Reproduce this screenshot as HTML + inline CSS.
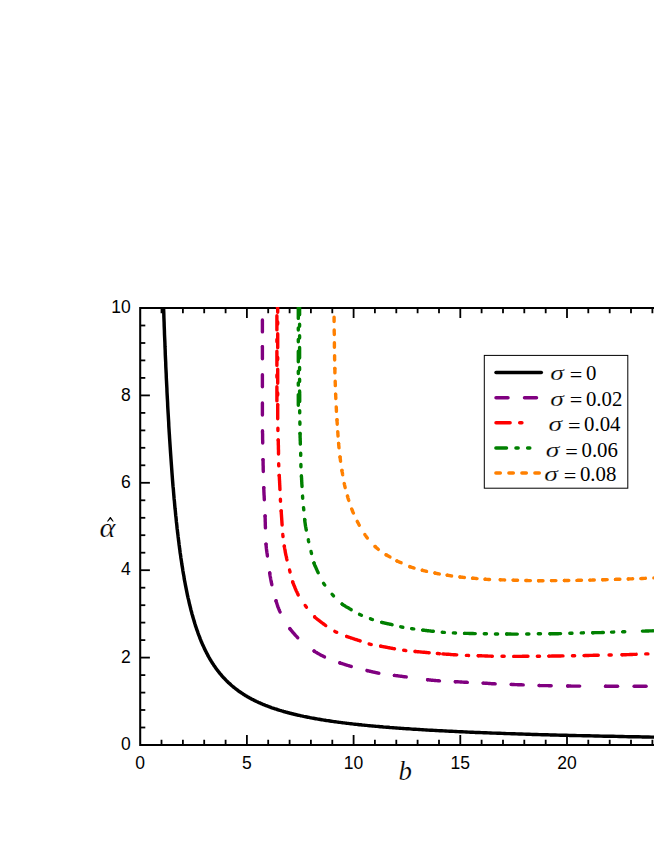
<!DOCTYPE html>
<html><head><meta charset="utf-8"><title>chart</title><style>html,body{margin:0;padding:0;background:#fff;overflow:hidden}svg{display:block}</style></head><body>
<svg width="654" height="846" viewBox="0 0 654 846">
<rect width="654" height="846" fill="#fff"/>
<defs><clipPath id="c"><rect x="139.1" y="307.1" width="600" height="438.8"/></clipPath></defs>
<g stroke="#000" stroke-width="2" fill="none" stroke-linecap="butt">
<path d="M654 308.0 H140.2 V745.0 H654" stroke-width="2.05" stroke-linejoin="miter"/>
<path d="M161.5 745.0 v-5.2M161.5 308.0 v5.2" stroke-width="1.8"/>
<path d="M182.9 745.0 v-5.2M182.9 308.0 v5.2" stroke-width="1.8"/>
<path d="M204.2 745.0 v-5.2M204.2 308.0 v5.2" stroke-width="1.8"/>
<path d="M225.6 745.0 v-5.2M225.6 308.0 v5.2" stroke-width="1.8"/>
<path d="M246.9 745.0 v-10M246.9 308.0 v10" stroke-width="1.8"/>
<path d="M268.2 745.0 v-5.2M268.2 308.0 v5.2" stroke-width="1.8"/>
<path d="M289.6 745.0 v-5.2M289.6 308.0 v5.2" stroke-width="1.8"/>
<path d="M310.9 745.0 v-5.2M310.9 308.0 v5.2" stroke-width="1.8"/>
<path d="M332.3 745.0 v-5.2M332.3 308.0 v5.2" stroke-width="1.8"/>
<path d="M353.6 745.0 v-10M353.6 308.0 v10" stroke-width="1.8"/>
<path d="M374.9 745.0 v-5.2M374.9 308.0 v5.2" stroke-width="1.8"/>
<path d="M396.3 745.0 v-5.2M396.3 308.0 v5.2" stroke-width="1.8"/>
<path d="M417.6 745.0 v-5.2M417.6 308.0 v5.2" stroke-width="1.8"/>
<path d="M439.0 745.0 v-5.2M439.0 308.0 v5.2" stroke-width="1.8"/>
<path d="M460.3 745.0 v-10M460.3 308.0 v10" stroke-width="1.8"/>
<path d="M481.6 745.0 v-5.2M481.6 308.0 v5.2" stroke-width="1.8"/>
<path d="M503.0 745.0 v-5.2M503.0 308.0 v5.2" stroke-width="1.8"/>
<path d="M524.3 745.0 v-5.2M524.3 308.0 v5.2" stroke-width="1.8"/>
<path d="M545.7 745.0 v-5.2M545.7 308.0 v5.2" stroke-width="1.8"/>
<path d="M567.0 745.0 v-10M567.0 308.0 v10" stroke-width="1.8"/>
<path d="M588.3 745.0 v-5.2M588.3 308.0 v5.2" stroke-width="1.8"/>
<path d="M609.7 745.0 v-5.2M609.7 308.0 v5.2" stroke-width="1.8"/>
<path d="M631.0 745.0 v-5.2M631.0 308.0 v5.2" stroke-width="1.8"/>
<path d="M652.4 745.0 v-5.2M652.4 308.0 v5.2" stroke-width="1.8"/>
<path d="M140.2 727.5 h5.1" stroke-width="1.8"/>
<path d="M140.2 710.0 h5.1" stroke-width="1.8"/>
<path d="M140.2 692.6 h5.1" stroke-width="1.8"/>
<path d="M140.2 675.1 h5.1" stroke-width="1.8"/>
<path d="M140.2 657.6 h9.7" stroke-width="1.8"/>
<path d="M140.2 640.1 h5.1" stroke-width="1.8"/>
<path d="M140.2 622.6 h5.1" stroke-width="1.8"/>
<path d="M140.2 605.2 h5.1" stroke-width="1.8"/>
<path d="M140.2 587.7 h5.1" stroke-width="1.8"/>
<path d="M140.2 570.2 h9.7" stroke-width="1.8"/>
<path d="M140.2 552.7 h5.1" stroke-width="1.8"/>
<path d="M140.2 535.2 h5.1" stroke-width="1.8"/>
<path d="M140.2 517.8 h5.1" stroke-width="1.8"/>
<path d="M140.2 500.3 h5.1" stroke-width="1.8"/>
<path d="M140.2 482.8 h9.7" stroke-width="1.8"/>
<path d="M140.2 465.3 h5.1" stroke-width="1.8"/>
<path d="M140.2 447.8 h5.1" stroke-width="1.8"/>
<path d="M140.2 430.4 h5.1" stroke-width="1.8"/>
<path d="M140.2 412.9 h5.1" stroke-width="1.8"/>
<path d="M140.2 395.4 h9.7" stroke-width="1.8"/>
<path d="M140.2 377.9 h5.1" stroke-width="1.8"/>
<path d="M140.2 360.4 h5.1" stroke-width="1.8"/>
<path d="M140.2 343.0 h5.1" stroke-width="1.8"/>
<path d="M140.2 325.5 h5.1" stroke-width="1.8"/>
</g>
<g fill="none" stroke-linecap="round" stroke-linejoin="round" clip-path="url(#c)">
<path d="M160.5 200.3 L160.6 205.8 L160.7 211.2 L160.9 216.6 L161.0 221.9 L161.1 227.1 L161.3 232.3 L161.4 237.5 L161.6 242.6 L161.7 247.6 L161.8 252.6 L162.0 257.6 L162.1 262.5 L162.3 267.3 L162.4 272.1 L162.6 276.9 L162.7 281.6 L162.8 286.2 L163.0 290.9 L163.1 295.4 L163.3 299.9 L163.4 304.4 L163.6 308.8 L163.8 313.2 L163.9 317.5 L164.1 321.8 L164.2 326.1 L164.4 330.3 L164.5 334.5 L164.7 338.6 L164.9 342.7 L165.0 346.7 L165.2 350.7 L165.3 354.6 L165.5 358.6 L165.7 362.4 L165.8 366.3 L166.0 370.1 L166.2 373.8 L166.3 377.5 L166.5 381.2 L166.7 384.9 L166.9 388.5 L167.0 392.0 L167.2 395.6 L167.4 399.1 L167.6 402.5 L167.7 405.9 L167.9 409.3 L168.1 412.7 L168.3 416.0 L168.5 419.3 L168.7 422.5 L168.8 425.8 L169.0 428.9 L169.2 432.1 L169.4 435.2 L169.6 438.3 L169.8 441.4 L170.0 444.4 L170.2 447.4 L170.4 450.3 L170.6 453.3 L170.8 456.2 L171.0 459.0 L171.2 461.9 L171.4 464.7 L171.6 467.5 L171.8 470.2 L172.0 473.0 L172.2 475.6 L172.4 478.3 L172.6 481.0 L172.8 483.6 L173.0 486.2 L173.3 488.7 L173.5 491.3 L173.7 493.8 L173.9 496.2 L174.1 498.7 L174.4 501.1 L174.6 503.5 L174.8 505.9 L175.0 508.3 L175.3 510.6 L175.5 512.9 L175.7 515.2 L176.0 517.4 L176.2 519.7 L176.4 521.9 L176.7 524.1 L176.9 526.2 L177.1 528.4 L177.4 530.5 L177.6 532.6 L177.9 534.7 L178.1 536.7 L178.4 538.8 L178.6 540.8 L178.9 542.8 L179.1 544.7 L179.4 546.7 L179.6 548.6 L179.9 550.5 L180.1 552.4 L180.4 554.3 L180.7 556.2 L180.9 558.0 L181.2 559.8 L181.5 561.6 L181.7 563.4 L182.0 565.1 L182.3 566.9 L182.6 568.6 L182.8 570.3 L183.1 572.0 L183.4 573.7 L183.7 575.3 L184.0 576.9 L184.2 578.6 L184.5 580.2 L184.8 581.7 L185.1 583.3 L185.4 584.9 L185.7 586.4 L186.0 587.9 L186.3 589.4 L186.6 590.9 L186.9 592.4 L187.2 593.8 L187.5 595.3 L187.8 596.7 L188.1 598.1 L188.5 599.5 L188.8 600.9 L189.1 602.3 L189.4 603.6 L189.7 605.0 L190.1 606.3 L190.4 607.6 L190.7 608.9 L191.0 610.2 L191.4 611.5 L191.7 612.7 L192.0 614.0 L192.4 615.2 L192.7 616.4 L193.1 617.6 L193.4 618.8 L193.8 620.0 L194.1 621.2 L194.5 622.3 L194.8 623.5 L195.2 624.6 L195.5 625.8 L195.9 626.9 L196.3 628.0 L196.6 629.1 L197.0 630.1 L197.4 631.2 L197.8 632.3 L198.1 633.3 L198.5 634.3 L198.9 635.4 L199.3 636.4 L199.7 637.4 L200.0 638.4 L200.4 639.4 L200.8 640.3 L201.2 641.3 L201.6 642.3 L202.0 643.2 L202.4 644.1 L202.8 645.1 L203.3 646.0 L203.7 646.9 L204.1 647.8 L204.5 648.7 L204.9 649.6 L205.3 650.4 L205.8 651.3 L206.2 652.1 L206.6 653.0 L207.1 653.8 L207.5 654.6 L207.9 655.5 L208.4 656.3 L208.8 657.1 L209.3 657.9 L209.7 658.7 L210.2 659.4 L210.6 660.2 L211.1 661.0 L211.6 661.7 L212.0 662.5 L212.5 663.2 L213.0 663.9 L213.5 664.7 L213.9 665.4 L214.4 666.1 L214.9 666.8 L215.4 667.5 L215.9 668.2 L216.4 668.9 L216.9 669.6 L217.4 670.2 L217.9 670.9 L218.4 671.5 L218.9 672.2 L219.4 672.8 L219.9 673.5 L220.5 674.1 L221.0 674.7 L221.5 675.3 L222.0 676.0 L222.6 676.6 L223.1 677.2 L223.7 677.8 L224.2 678.3 L224.8 678.9 L225.3 679.5 L225.9 680.1 L226.4 680.6 L227.0 681.2 L227.6 681.8 L228.1 682.3 L228.7 682.8 L229.3 683.4 L229.9 683.9 L230.5 684.4 L231.0 685.0 L231.6 685.5 L232.2 686.0 L232.8 686.5 L233.4 687.0 L234.1 687.5 L234.7 688.0 L235.3 688.5 L235.9 689.0 L236.5 689.4 L237.2 689.9 L237.8 690.4 L238.4 690.9 L239.1 691.3 L239.7 691.8 L240.4 692.2 L241.0 692.7 L241.7 693.1 L242.4 693.5 L243.0 694.0 L243.7 694.4 L244.4 694.8 L245.1 695.3 L245.7 695.7 L246.4 696.1 L247.1 696.5 L247.8 696.9 L248.5 697.3 L249.2 697.7 L250.0 698.1 L250.7 698.5 L251.4 698.9 L252.1 699.3 L252.9 699.6 L253.6 700.0 L254.3 700.4 L255.1 700.8 L255.8 701.1 L256.6 701.5 L257.4 701.8 L258.1 702.2 L258.9 702.6 L259.7 702.9 L260.4 703.2 L261.2 703.6 L262.0 703.9 L262.8 704.3 L263.6 704.6 L264.4 704.9 L265.2 705.3 L266.1 705.6 L266.9 705.9 L267.7 706.2 L268.6 706.5 L269.4 706.8 L270.2 707.2 L271.1 707.5 L271.9 707.8 L272.8 708.1 L273.7 708.4 L274.5 708.7 L275.4 708.9 L276.3 709.2 L277.2 709.5 L278.1 709.8 L279.0 710.1 L279.9 710.4 L280.8 710.6 L281.7 710.9 L282.7 711.2 L283.6 711.5 L284.5 711.7 L285.5 712.0 L286.4 712.2 L287.4 712.5 L288.4 712.8 L289.3 713.0 L290.3 713.3 L291.3 713.5 L292.3 713.8 L293.3 714.0 L294.3 714.3 L295.3 714.5 L296.3 714.7 L297.3 715.0 L298.3 715.2 L299.4 715.4 L300.4 715.7 L301.5 715.9 L302.5 716.1 L303.6 716.4 L304.6 716.6 L305.7 716.8 L306.8 717.0 L307.9 717.2 L309.0 717.4 L310.1 717.7 L311.2 717.9 L312.3 718.1 L313.5 718.3 L314.6 718.5 L315.7 718.7 L316.9 718.9 L318.0 719.1 L319.2 719.3 L320.4 719.5 L321.5 719.7 L322.7 719.9 L323.9 720.1 L325.1 720.3 L326.3 720.5 L327.6 720.6 L328.8 720.8 L330.0 721.0 L331.3 721.2 L332.5 721.4 L333.8 721.6 L335.0 721.7 L336.3 721.9 L337.6 722.1 L338.9 722.3 L340.2 722.4 L341.5 722.6 L342.8 722.8 L344.1 722.9 L345.5 723.1 L346.8 723.3 L348.2 723.4 L349.5 723.6 L350.9 723.7 L352.3 723.9 L353.7 724.1 L355.0 724.2 L356.5 724.4 L357.9 724.5 L359.3 724.7 L360.7 724.8 L362.2 725.0 L363.6 725.1 L365.1 725.3 L366.6 725.4 L368.0 725.6 L369.5 725.7 L371.0 725.9 L372.5 726.0 L374.1 726.1 L375.6 726.3 L377.1 726.4 L378.7 726.5 L380.2 726.7 L381.8 726.8 L383.4 727.0 L385.0 727.1 L386.6 727.2 L388.2 727.3 L389.8 727.5 L391.4 727.6 L393.1 727.7 L394.7 727.9 L396.4 728.0 L398.1 728.1 L399.8 728.2 L401.5 728.4 L403.2 728.5 L404.9 728.6 L406.6 728.7 L408.4 728.8 L410.1 728.9 L411.9 729.1 L413.7 729.2 L415.5 729.3 L417.3 729.4 L419.1 729.5 L420.9 729.6 L422.7 729.7 L424.6 729.9 L426.4 730.0 L428.3 730.1 L430.2 730.2 L432.1 730.3 L434.0 730.4 L435.9 730.5 L437.9 730.6 L439.8 730.7 L441.8 730.8 L443.8 730.9 L445.7 731.0 L447.7 731.1 L449.7 731.2 L451.8 731.3 L453.8 731.4 L455.9 731.5 L457.9 731.6 L460.0 731.7 L462.1 731.8 L464.2 731.9 L466.3 732.0 L468.5 732.1 L470.6 732.2 L472.8 732.3 L474.9 732.4 L477.1 732.4 L479.3 732.5 L481.6 732.6 L483.8 732.7 L486.0 732.8 L488.3 732.9 L490.6 733.0 L492.9 733.1 L495.2 733.1 L497.5 733.2 L499.8 733.3 L502.2 733.4 L504.6 733.5 L506.9 733.6 L509.3 733.6 L511.8 733.7 L514.2 733.8 L516.6 733.9 L519.1 734.0 L521.6 734.0 L524.1 734.1 L526.6 734.2 L529.1 734.3 L531.7 734.4 L534.2 734.4 L536.8 734.5 L539.4 734.6 L542.0 734.7 L544.6 734.7 L547.3 734.8 L549.9 734.9 L552.6 734.9 L555.3 735.0 L558.0 735.1 L560.8 735.2 L563.5 735.2 L566.3 735.3 L569.1 735.4 L571.9 735.4 L574.7 735.5 L577.6 735.6 L580.4 735.6 L583.3 735.7 L586.2 735.8 L589.1 735.8 L592.0 735.9 L595.0 736.0 L598.0 736.0 L601.0 736.1 L604.0 736.2 L607.0 736.2 L610.1 736.3 L613.2 736.3 L616.2 736.4 L619.4 736.5 L622.5 736.5 L625.6 736.6 L628.8 736.7 L632.0 736.7 L635.2 736.8 L638.5 736.8 L641.7 736.9 L645.0 736.9 L648.3 737.0 L651.6 737.1 L655.0 737.1 L658.4 737.2 L661.8 737.2 L665.2 737.3" stroke="#000" stroke-width="3.45"/>
<path d="M262.4 318.2 L262.4 319.9" stroke="#800080" stroke-width="3.4" stroke-dasharray="12.00 16.20" stroke-dashoffset="26.50"/>
<path d="M262.4 319.9 L262.4 319.9 L262.4 321.6 L262.4 323.3 L262.4 325.0 L262.4 326.7 L262.4 328.3 L262.4 330.0 L262.4 331.6 L262.4 333.3 L262.4 334.9 L262.4 336.6 L262.4 338.3 L262.4 340.0 L262.4 341.6 L262.4 343.4 L262.4 345.1 L262.4 346.7" stroke="#800080" stroke-width="3.4" stroke-dasharray="12.00 14.80"/>
<path d="M262.4 346.7 L262.4 346.8 L262.4 348.6 L262.4 350.4 L262.4 352.3 L262.4 354.1 L262.4 356.1 L262.4 358.0 L262.4 360.0 L262.4 362.1 L262.4 364.2 L262.4 366.5 L262.4 368.9 L262.4 371.3 L262.4 373.8 L262.4 374.7" stroke="#800080" stroke-width="3.4" stroke-dasharray="12.00 16.00"/>
<path d="M262.4 374.7 L262.4 376.3 L262.4 378.8 L262.4 381.4 L262.4 384.0 L262.4 386.6 L262.4 389.2 L262.4 391.7 L262.4 394.3 L262.4 396.7 L262.4 399.1 L262.4 401.5 L262.4 403.0" stroke="#800080" stroke-width="3.4" stroke-dasharray="12.00 16.30"/>
<path d="M262.4 403.0 L262.4 403.8 L262.4 405.9 L262.4 408.0 L262.4 409.9 L262.4 411.8 L262.4 413.5 L262.4 415.0 L262.4 416.4 L262.4 417.6 L262.4 418.7 L262.4 419.7 L262.4 420.5 L262.4 421.3 L262.4 421.9 L262.4 422.5 L262.4 423.0 L262.4 423.4 L262.4 423.8 L262.4 424.2 L262.4 424.5 L262.4 424.9 L262.4 425.2 L262.4 425.5 L262.4 425.9 L262.4 426.3 L262.5 426.7 L262.5 427.2 L262.5 427.8 L262.5 428.4 L262.5 429.2 L262.5 430.0 L262.5 430.9 L262.5 431.0" stroke="#800080" stroke-width="3.4" stroke-dasharray="12.00 16.00"/>
<path d="M262.5 431.0 L262.5 431.9 L262.5 432.9 L262.6 433.9 L262.6 435.0 L262.6 436.1 L262.6 437.2 L262.6 438.4 L262.6 439.5 L262.7 440.7 L262.7 442.0 L262.7 443.2 L262.7 444.4 L262.8 445.7 L262.8 446.9 L262.8 448.2 L262.8 449.4 L262.9 450.7 L262.9 451.9 L262.9 453.2 L262.9 454.4 L263.0 455.6 L263.0 456.8 L263.0 458.0 L263.0 459.2 L263.0 459.6" stroke="#800080" stroke-width="3.4" stroke-dasharray="12.00 16.60"/>
<path d="M263.0 459.6 L263.0 460.3 L263.1 461.5 L263.1 462.7 L263.1 463.8 L263.1 465.0 L263.2 466.2 L263.2 467.3 L263.2 468.5 L263.2 469.7 L263.3 470.8 L263.3 472.0 L263.3 473.2 L263.4 474.3 L263.4 475.5 L263.4 476.7 L263.4 477.8 L263.5 479.0 L263.5 480.2 L263.5 481.3 L263.6 482.5 L263.6 483.7 L263.7 484.8 L263.7 486.0 L263.7 487.2 L263.8 487.7" stroke="#800080" stroke-width="3.4" stroke-dasharray="12.00 16.11"/>
<path d="M263.8 487.7 L263.8 488.3 L263.8 489.5 L263.9 490.7 L263.9 491.8 L264.0 493.0 L264.0 494.2 L264.1 495.3 L264.2 496.5 L264.2 497.6 L264.3 498.8 L264.3 500.0 L264.4 501.1 L264.5 502.3 L264.5 503.5 L264.6 504.6 L264.6 505.8 L264.7 507.0 L264.7 508.1 L264.8 509.3 L264.9 510.5 L264.9 511.7 L265.0 512.8 L265.0 514.0 L265.0 515.2 L265.1 515.9" stroke="#800080" stroke-width="3.4" stroke-dasharray="12.00 16.23"/>
<path d="M265.1 515.9 L265.1 516.4 L265.1 517.6 L265.2 518.9 L265.2 520.1 L265.2 521.4 L265.3 522.7 L265.3 524.0 L265.3 525.3 L265.4 526.6 L265.4 527.8 L265.4 529.1 L265.5 530.4 L265.5 531.6 L265.5 532.8 L265.6 534.0 L265.6 535.2 L265.6 536.3 L265.7 537.4 L265.7 538.5 L265.8 539.6 L265.8 540.6 L265.9 541.5 L265.9 542.4 L266.0 543.2 L266.0 544.0 L266.0 544.1" stroke="#800080" stroke-width="3.4" stroke-dasharray="12.00 16.22"/>
<path d="M266.0 544.1 L266.1 544.8 L266.1 545.5 L266.2 546.2 L266.2 546.8 L266.3 547.4 L266.3 547.9 L266.4 548.5 L266.5 549.0 L266.5 549.5 L266.6 550.0 L266.6 550.4 L266.7 550.9 L266.8 551.4 L266.8 551.8 L266.9 552.3 L267.0 552.7 L267.0 553.2 L267.1 553.7 L267.2 554.2 L267.3 554.8 L267.3 555.3 L267.4 555.9 L267.5 556.5 L267.5 557.1 L267.6 557.7 L267.7 558.4 L267.8 559.0 L267.9 559.7 L267.9 560.3 L268.0 561.0 L268.1 561.6 L268.2 562.3 L268.3 563.0 L268.3 563.6 L268.4 564.3 L268.5 564.9 L268.6 565.6 L268.7 566.3 L268.8 566.9 L268.9 567.6 L268.9 568.2 L269.0 568.8 L269.1 569.5 L269.2 570.1 L269.3 570.7 L269.4 571.3 L269.5 571.9 L269.6 572.5 L269.7 573.0" stroke="#800080" stroke-width="3.4" stroke-dasharray="12.00 17.12"/>
<path d="M269.7 573.0 L269.7 573.0 L269.8 573.6 L269.9 574.2 L269.9 574.7 L270.0 575.3 L270.1 575.8 L270.2 576.3 L270.3 576.9 L270.4 577.4 L270.5 577.9 L270.6 578.5 L270.7 579.0 L270.8 579.5 L270.9 580.1 L271.0 580.6 L271.1 581.1 L271.2 581.7 L271.3 582.2 L271.4 582.8 L271.6 583.4 L271.7 583.9 L271.8 584.5 L271.9 585.1 L272.1 585.7 L272.2 586.3 L272.3 586.9 L272.5 587.5 L272.6 588.1 L272.7 588.7 L272.9 589.3 L273.0 590.0 L273.2 590.6 L273.3 591.2 L273.5 591.8 L273.6 592.5 L273.8 593.1 L274.0 593.7 L274.1 594.3 L274.3 595.0 L274.5 595.6 L274.6 596.2 L274.8 596.8 L275.0 597.4 L275.1 598.0 L275.3 598.6 L275.5 599.2 L275.7 599.8 L275.9 600.4 L276.0 600.8" stroke="#800080" stroke-width="3.4" stroke-dasharray="12.00 16.58"/>
<path d="M276.0 600.8 L276.0 600.9 L276.2 601.5 L276.4 602.1 L276.6 602.6 L276.7 603.2 L276.9 603.7 L277.1 604.3 L277.3 604.9 L277.5 605.4 L277.6 606.0 L277.8 606.5 L278.0 607.1 L278.2 607.6 L278.5 608.2 L278.7 608.7 L278.9 609.3 L279.1 609.8 L279.4 610.4 L279.6 611.0 L279.9 611.5 L280.1 612.1 L280.4 612.7 L280.7 613.3 L281.0 613.9 L281.3 614.5 L281.6 615.1 L281.9 615.7 L282.2 616.3 L282.5 616.9 L282.9 617.6 L283.2 618.2 L283.6 618.8 L283.9 619.4 L284.3 620.1 L284.6 620.7 L285.0 621.3 L285.4 621.9 L285.7 622.5 L286.1 623.2 L286.5 623.8 L286.9 624.4 L287.3 625.0 L287.7 625.6 L288.1 626.2 L288.5 626.7 L288.9 627.3 L289.3 627.9 L289.7 628.4 L289.9 628.7" stroke="#800080" stroke-width="3.4" stroke-dasharray="12.00 19.29"/>
<path d="M289.9 628.7 L290.1 629.0 L290.6 629.5 L291.0 630.1 L291.4 630.6 L291.9 631.2 L292.3 631.7 L292.8 632.2 L293.2 632.8 L293.7 633.3 L294.1 633.8 L294.6 634.3 L295.1 634.9 L295.5 635.4 L296.0 635.9 L296.5 636.4 L297.0 636.9 L297.4 637.4 L297.9 637.9 L298.4 638.4 L298.9 638.8 L299.4 639.3 L299.9 639.8 L300.4 640.3 L300.9 640.7 L301.4 641.2 L301.9 641.7 L302.4 642.1 L303.0 642.6 L303.5 643.1 L304.0 643.5 L304.6 644.0 L305.1 644.4 L305.6 644.8 L306.2 645.3 L306.7 645.7 L307.3 646.1 L307.8 646.6 L308.4 647.0 L308.9 647.4 L309.5 647.8 L310.0 648.2 L310.5 648.6 L311.1 649.0 L311.6 649.4 L312.2 649.7 L312.7 650.1 L313.2 650.5 L313.8 650.8 L314.1 651.0" stroke="#800080" stroke-width="3.4" stroke-dasharray="12.00 21.12"/>
<path d="M314.1 651.0 L314.3 651.2 L314.8 651.5 L315.4 651.9 L315.9 652.2 L316.5 652.5 L317.0 652.8 L317.5 653.2 L318.1 653.5 L318.6 653.8 L319.2 654.1 L319.7 654.4 L320.2 654.7 L320.8 655.0 L321.3 655.3 L321.8 655.5 L322.4 655.8 L322.9 656.1 L323.5 656.4 L324.0 656.6 L324.5 656.9 L325.1 657.1 L325.6 657.4 L326.1 657.7 L326.7 657.9 L327.2 658.1 L327.7 658.4 L328.2 658.6 L328.8 658.8 L329.3 659.0 L329.8 659.2 L330.3 659.4 L330.9 659.6 L331.4 659.8 L331.9 660.0 L332.4 660.2 L332.9 660.4 L333.5 660.6 L334.0 660.8 L334.5 661.0 L335.1 661.2 L335.6 661.4 L336.1 661.5 L336.7 661.7 L337.2 661.9 L337.8 662.1 L338.3 662.3 L338.9 662.5 L339.4 662.7 L339.9 662.9" stroke="#800080" stroke-width="3.4" stroke-dasharray="12.00 16.46"/>
<path d="M339.9 662.9 L340.0 662.9 L340.5 663.1 L341.1 663.3 L341.7 663.5 L342.2 663.6 L342.8 663.8 L343.4 664.0 L343.9 664.2 L344.5 664.4 L345.1 664.6 L345.7 664.8 L346.3 665.0 L346.8 665.1 L347.4 665.3 L348.0 665.5 L348.6 665.7 L349.1 665.9 L349.7 666.0 L350.3 666.2 L350.9 666.4 L351.4 666.5 L352.0 666.7 L352.6 666.9 L353.1 667.0 L353.7 667.2 L354.3 667.3 L354.8 667.5 L355.4 667.6 L355.9 667.8 L356.5 667.9 L357.1 668.1 L357.6 668.2 L358.2 668.4 L358.7 668.5 L359.3 668.7 L359.9 668.8 L360.4 669.0 L361.0 669.1 L361.5 669.2 L362.1 669.4 L362.7 669.5 L363.2 669.7 L363.8 669.8 L364.4 669.9 L364.9 670.1 L365.5 670.2 L366.1 670.3 L366.6 670.5 L367.1 670.6" stroke="#800080" stroke-width="3.4" stroke-dasharray="12.00 16.34"/>
<path d="M367.2 670.6 L367.2 670.6 L367.8 670.8 L368.4 670.9 L369.0 671.0 L369.5 671.2 L370.1 671.3 L370.7 671.4 L371.3 671.6 L371.9 671.7 L372.4 671.9 L373.0 672.0 L373.6 672.1 L374.2 672.2 L374.8 672.4 L375.4 672.5 L375.9 672.6 L376.5 672.7 L377.1 672.9 L377.7 673.0 L378.3 673.1 L378.8 673.2 L379.4 673.3 L380.0 673.4 L380.5 673.5 L381.1 673.6 L381.7 673.7 L382.2 673.8 L382.8 673.9 L383.4 673.9 L383.9 674.0 L384.5 674.1 L385.0 674.2 L385.6 674.3 L386.2 674.3 L386.7 674.4 L387.3 674.5 L387.8 674.5 L388.4 674.6 L389.0 674.7 L389.5 674.8 L390.1 674.8 L390.6 674.9 L391.2 675.0 L391.8 675.0 L392.3 675.1 L392.9 675.2 L393.5 675.3 L394.0 675.4 L394.4 675.4" stroke="#800080" stroke-width="3.4" stroke-dasharray="12.00 15.68"/>
<path d="M394.4 675.4 L394.6 675.4 L395.1 675.5 L395.7 675.6 L396.2 675.6 L396.7 675.7 L397.3 675.8 L397.8 675.8 L398.3 675.9 L398.9 676.0 L399.4 676.1 L400.0 676.1 L400.5 676.2 L401.1 676.3 L401.7 676.3 L402.2 676.4 L402.8 676.5 L403.4 676.6 L404.1 676.7 L404.7 676.7 L405.3 676.8 L406.0 676.9 L406.7 677.0 L407.4 677.1 L408.2 677.2 L408.9 677.3 L409.7 677.4 L410.5 677.5 L411.3 677.6 L412.2 677.7 L413.0 677.9 L413.9 678.0 L414.8 678.1 L415.7 678.2 L416.5 678.3 L417.4 678.5 L418.3 678.6 L419.2 678.7 L420.0 678.8 L420.9 678.9 L421.7 679.0 L422.6 679.1 L423.4 679.2 L424.2 679.3 L424.9 679.4 L425.7 679.5 L426.4 679.6 L427.1 679.7 L427.6 679.7" stroke="#800080" stroke-width="3.4" stroke-dasharray="12.00 21.49"/>
<path d="M427.6 679.7 L427.8 679.8 L428.4 679.8 L429.1 679.9 L429.7 680.0 L430.3 680.0 L430.9 680.1 L431.5 680.2 L432.1 680.2 L432.6 680.3 L433.2 680.3 L433.7 680.4 L434.3 680.4 L434.8 680.5 L435.4 680.5 L435.9 680.6 L436.4 680.6 L437.0 680.6 L437.5 680.7 L438.1 680.7 L438.6 680.8 L439.2 680.8 L439.7 680.9 L440.3 680.9 L440.9 680.9 L441.4 681.0 L442.0 681.0 L442.6 681.1 L443.1 681.1 L443.7 681.1 L444.2 681.1 L444.8 681.2 L445.4 681.2 L445.9 681.2 L446.5 681.3 L447.0 681.3 L447.6 681.3 L448.1 681.3 L448.7 681.4 L449.3 681.4 L449.8 681.4 L450.4 681.4 L450.9 681.5 L451.5 681.5 L452.1 681.5 L452.6 681.5 L453.2 681.6 L453.8 681.6 L454.4 681.6 L455.0 681.7 L455.4 681.7" stroke="#800080" stroke-width="3.4" stroke-dasharray="12.00 15.86"/>
<path d="M455.4 681.7 L455.6 681.7 L456.1 681.7 L456.7 681.8 L457.3 681.8 L457.9 681.8 L458.5 681.9 L459.1 681.9 L459.7 681.9 L460.3 682.0 L460.9 682.0 L461.6 682.0 L462.2 682.1 L462.8 682.1 L463.4 682.1 L464.0 682.2 L464.6 682.2 L465.2 682.2 L465.8 682.3 L466.3 682.3 L466.9 682.3 L467.5 682.4 L468.1 682.4 L468.7 682.4 L469.3 682.5 L469.8 682.5 L470.4 682.5 L470.9 682.5 L471.5 682.6 L472.1 682.6 L472.6 682.6 L473.2 682.6 L473.7 682.6 L474.3 682.7 L474.8 682.7 L475.4 682.7 L476.0 682.7 L476.5 682.8 L477.1 682.8 L477.6 682.8 L478.2 682.8 L478.7 682.9 L479.3 682.9 L479.9 682.9 L480.4 682.9 L481.0 683.0 L481.6 683.0 L482.2 683.0 L482.8 683.1 L483.2 683.1" stroke="#800080" stroke-width="3.4" stroke-dasharray="12.00 15.85"/>
<path d="M483.2 683.1 L483.4 683.1 L484.0 683.1 L484.5 683.2 L485.1 683.2 L485.7 683.3 L486.4 683.3 L487.0 683.3 L487.6 683.4 L488.2 683.4 L488.8 683.5 L489.4 683.5 L490.0 683.5 L490.6 683.6 L491.2 683.6 L491.8 683.7 L492.4 683.7 L493.0 683.7 L493.6 683.8 L494.2 683.8 L494.8 683.8 L495.4 683.9 L496.0 683.9 L496.6 683.9 L497.2 684.0 L497.8 684.0 L498.3 684.0 L498.9 684.0 L499.5 684.1 L500.1 684.1 L500.7 684.1 L501.2 684.1 L501.8 684.1 L502.4 684.2 L503.0 684.2 L503.6 684.2 L504.1 684.2 L504.7 684.2 L505.3 684.2 L505.9 684.3 L506.4 684.3 L507.0 684.3 L507.6 684.3 L508.2 684.3 L508.7 684.4 L509.3 684.4 L509.9 684.4 L510.5 684.4 L511.1 684.4 L511.3 684.4" stroke="#800080" stroke-width="3.4" stroke-dasharray="12.00 16.13"/>
<path d="M511.3 684.4 L511.6 684.5 L512.2 684.5 L512.8 684.5 L513.4 684.5 L514.0 684.5 L514.5 684.6 L515.1 684.6 L515.7 684.6 L516.3 684.6 L516.9 684.6 L517.4 684.7 L518.0 684.7 L518.6 684.7 L519.2 684.7 L519.8 684.7 L520.3 684.8 L520.9 684.8 L521.5 684.8 L522.1 684.8 L522.6 684.9 L523.2 684.9 L523.8 684.9 L524.4 684.9 L524.9 684.9 L525.5 685.0 L526.1 685.0 L526.6 685.0 L527.2 685.1 L527.8 685.1 L528.3 685.1 L528.9 685.1 L529.5 685.2 L530.0 685.2 L530.6 685.2 L531.1 685.2 L531.7 685.3 L532.3 685.3 L532.8 685.3 L533.4 685.4 L534.0 685.4 L534.6 685.4 L535.1 685.4 L535.7 685.4 L536.3 685.5 L536.9 685.5 L537.5 685.5 L538.1 685.5 L538.7 685.5 L539.2 685.5" stroke="#800080" stroke-width="3.4" stroke-dasharray="12.00 15.93"/>
<path d="M539.2 685.5 L539.3 685.5 L539.9 685.6 L540.6 685.6 L541.2 685.6 L541.8 685.6 L542.5 685.6 L543.1 685.6 L543.7 685.6 L544.4 685.6 L545.0 685.6 L545.7 685.6 L546.3 685.6 L546.9 685.6 L547.6 685.6 L548.2 685.6 L548.8 685.7 L549.5 685.7 L550.1 685.7 L550.7 685.7 L551.3 685.7 L551.9 685.7 L552.5 685.7 L553.1 685.7 L553.7 685.7 L554.3 685.7 L554.8 685.7 L555.4 685.8 L556.0 685.8 L556.5 685.8 L557.1 685.8 L557.6 685.8 L558.2 685.8 L558.7 685.8 L559.3 685.9 L559.8 685.9 L560.4 685.9 L560.9 685.9 L561.5 685.9 L562.0 685.9 L562.6 685.9 L563.1 685.9 L563.7 686.0 L564.3 686.0 L564.8 686.0 L565.4 686.0 L566.0 686.0 L566.6 686.0 L567.2 686.0 L567.7 686.0" stroke="#800080" stroke-width="3.4" stroke-dasharray="12.00 16.50"/>
<path d="M567.7 686.0 L567.7 686.0 L568.3 686.0 L568.9 686.0 L569.4 686.0 L570.0 686.0 L570.5 686.0 L571.1 686.1 L571.7 686.1 L572.2 686.1 L572.8 686.1 L573.4 686.1 L574.0 686.1 L574.6 686.1 L575.2 686.1 L575.8 686.1 L576.5 686.1 L577.2 686.1 L577.8 686.1 L578.5 686.1 L579.3 686.1 L580.0 686.1 L580.8 686.1 L581.6 686.1 L582.5 686.1 L583.3 686.1 L584.3 686.1 L585.2 686.1 L586.2 686.1 L587.2 686.1 L588.2 686.1 L589.2 686.1 L590.2 686.1 L591.3 686.2 L592.3 686.2 L593.4 686.2 L594.4 686.2 L595.5 686.2 L596.5 686.2 L597.5 686.2 L598.5 686.2 L599.5 686.2 L600.4 686.2 L601.3 686.2 L602.2 686.2 L603.1 686.2 L603.9 686.2 L604.7 686.2 L605.4 686.2 L605.6 686.2" stroke="#800080" stroke-width="3.4" stroke-dasharray="12.00 25.90"/>
<path d="M605.6 686.2 L606.2 686.2 L606.9 686.2 L607.6 686.2 L608.3 686.2 L608.9 686.2 L609.6 686.2 L610.2 686.2 L610.8 686.2 L611.4 686.2 L612.0 686.2 L612.6 686.2 L613.2 686.2 L613.7 686.2 L614.3 686.2 L614.9 686.2 L615.4 686.2 L616.0 686.2 L616.6 686.2 L617.2 686.2 L617.7 686.2 L618.3 686.2 L618.9 686.2 L619.5 686.2 L620.1 686.2 L620.7 686.2 L621.2 686.2 L621.8 686.2 L622.4 686.2 L622.9 686.2 L623.5 686.2 L624.0 686.2 L624.6 686.2 L625.1 686.2 L625.7 686.2 L626.2 686.2 L626.8 686.2 L627.3 686.2 L627.9 686.2 L628.4 686.2 L629.0 686.2 L629.5 686.2 L630.1 686.2 L630.7 686.2 L631.2 686.2 L631.8 686.2 L632.4 686.2 L633.0 686.2 L633.6 686.2 L634.1 686.2" stroke="#800080" stroke-width="3.4" stroke-dasharray="12.00 16.50"/>
<path d="M634.1 686.2 L634.2 686.2 L634.8 686.2 L635.4 686.2 L636.1 686.2 L636.7 686.2 L637.3 686.2 L637.9 686.2 L638.6 686.2 L639.2 686.2 L639.8 686.2 L640.5 686.2 L641.1 686.2 L641.7 686.2 L642.4 686.2 L643.0 686.2 L643.6 686.2 L644.2 686.2 L644.8 686.2 L645.4 686.2 L646.0 686.2 L646.6 686.2 L647.2 686.2 L647.8 686.2 L648.3 686.2 L648.9 686.2 L649.4 686.2 L650.0 686.2 L650.5 686.2 L651.1 686.2 L651.6 686.2 L652.1 686.2 L652.7 686.2 L653.2 686.2 L653.7 686.2 L654.2 686.2 L654.8 686.2 L655.3 686.2 L655.8 686.2 L656.3 686.2 L656.8 686.2 L657.4 686.2 L657.9 686.2 L658.4 686.2 L658.9 686.2 L659.5 686.2 L660.0 686.2" stroke="#800080" stroke-width="3.4" stroke-dasharray="12.00 16.20"/>
<path d="M277.7 300.0 L277.7 302.5 L277.7 305.0 L277.7 307.5 L277.7 310.0 L277.7 312.5 L277.7 315.0 L277.7 317.5 L277.7 320.0 L277.7 322.5 L277.7 325.1 L277.7 327.6 L277.7 330.1 L277.7 332.6 L277.7 335.1 L277.7 337.6 L277.7 340.1 L277.7 342.6 L277.7 345.1 L277.7 347.6 L277.7 350.1 L277.7 352.5 L277.7 355.0 L277.7 357.5 L277.7 360.0 L277.7 362.5 L277.7 365.1 L277.7 367.8 L277.7 370.5 L277.7 373.2 L277.7 376.0 L277.7 378.8 L277.7 381.6 L277.7 384.4 L277.7 387.1 L277.7 389.9 L277.7 392.6 L277.7 395.3 L277.7 397.9 L277.7 400.5 L277.7 403.0 L277.7 404.7" stroke="#ff0000" stroke-width="3.4" stroke-dasharray="14.10 9.60 2.20 9.60" stroke-dashoffset="1.80"/>
<path d="M277.7 404.7 L277.7 405.4 L277.7 407.7 L277.7 409.9 L277.7 412.0 L277.7 414.0 L277.7 415.8 L277.7 417.5 L277.7 419.0 L277.7 420.3 L277.7 421.5 L277.7 422.5 L277.7 423.4 L277.7 424.1 L277.7 424.8 L277.7 425.3 L277.7 425.7 L277.7 426.0 L277.8 426.2 L277.8 426.4 L277.8 426.6 L277.8 426.7 L277.8 426.7 L277.8 426.8 L277.8 426.9 L277.8 427.0 L277.8 427.1 L277.8 427.2 L277.8 427.4 L277.9 427.7 L277.9 428.0 L277.9 428.5 L277.9 429.0 L277.9 429.6 L277.9 430.2 L277.9 430.9 L278.0 431.5 L278.0 432.2 L278.0 432.9 L278.0 433.7 L278.1 434.4 L278.1 435.2 L278.1 436.0 L278.1 436.7 L278.1 437.5 L278.2 438.3 L278.2 439.1 L278.2 439.9 L278.2 440.0" stroke="#ff0000" stroke-width="3.4" stroke-dasharray="14.10 9.51 2.20 9.51"/>
<path d="M278.2 440.0 L278.2 440.7 L278.3 441.5 L278.3 442.3 L278.3 443.1 L278.3 443.9 L278.3 444.7 L278.4 445.5 L278.4 446.3 L278.4 447.0 L278.4 447.7 L278.4 448.5 L278.4 449.2 L278.5 449.9 L278.5 450.7 L278.5 451.4 L278.5 452.1 L278.5 452.9 L278.5 453.6 L278.5 454.3 L278.5 455.1 L278.5 455.8 L278.5 456.5 L278.5 457.2 L278.6 458.0 L278.6 458.7 L278.6 459.4 L278.6 460.1 L278.6 460.9 L278.6 461.6 L278.6 462.3 L278.7 463.0 L278.7 463.8 L278.7 464.5 L278.7 465.2 L278.8 466.0 L278.8 466.7 L278.8 467.4 L278.9 468.1 L278.9 468.9 L278.9 469.6 L279.0 470.3 L279.0 471.1 L279.0 471.8 L279.1 472.5 L279.1 473.2 L279.2 474.0 L279.2 474.7 L279.2 475.4 L279.2 475.5" stroke="#ff0000" stroke-width="3.4" stroke-dasharray="14.10 9.61 2.20 9.61"/>
<path d="M279.2 475.5 L279.3 476.2 L279.3 476.9 L279.4 477.6 L279.4 478.4 L279.4 479.1 L279.5 479.8 L279.5 480.5 L279.6 481.3 L279.6 482.0 L279.6 482.7 L279.7 483.5 L279.7 484.2 L279.7 484.9 L279.8 485.6 L279.8 486.4 L279.8 487.1 L279.9 487.8 L279.9 488.6 L279.9 489.3 L280.0 490.0 L280.0 490.8 L280.0 491.5 L280.0 492.2 L280.1 492.9 L280.1 493.7 L280.1 494.4 L280.2 495.1 L280.2 495.9 L280.2 496.6 L280.3 497.3 L280.3 498.0 L280.4 498.8 L280.4 499.5 L280.4 500.2 L280.5 501.0 L280.5 501.7 L280.6 502.4 L280.6 503.1 L280.7 503.9 L280.7 504.6 L280.8 505.3 L280.8 506.1 L280.9 506.8 L280.9 507.5 L281.0 508.2 L281.0 509.0 L281.1 509.7 L281.1 510.4 L281.2 511.0" stroke="#ff0000" stroke-width="3.4" stroke-dasharray="14.10 9.62 2.20 9.62"/>
<path d="M281.2 511.0 L281.2 511.2 L281.2 511.9 L281.3 512.6 L281.3 513.4 L281.4 514.1 L281.4 514.8 L281.5 515.5 L281.5 516.3 L281.6 517.0 L281.6 517.7 L281.7 518.5 L281.7 519.2 L281.8 520.0 L281.8 520.7 L281.9 521.5 L281.9 522.2 L282.0 523.0 L282.0 523.7 L282.1 524.5 L282.1 525.2 L282.2 526.0 L282.2 526.7 L282.3 527.5 L282.3 528.2 L282.4 529.0 L282.4 529.7 L282.5 530.4 L282.5 531.1 L282.6 531.8 L282.6 532.5 L282.7 533.2 L282.7 533.8 L282.8 534.5 L282.9 535.1 L282.9 535.8 L283.0 536.4 L283.1 537.0 L283.1 537.6 L283.2 538.2 L283.3 538.8 L283.3 539.4 L283.4 539.9 L283.5 540.5 L283.6 541.0 L283.6 541.6 L283.7 542.1 L283.8 542.7 L283.9 543.2 L283.9 543.8 L284.0 544.3 L284.1 544.8 L284.2 545.4 L284.3 545.9 L284.3 546.1" stroke="#ff0000" stroke-width="3.4" stroke-dasharray="14.10 9.47 2.20 9.47"/>
<path d="M284.3 546.1 L284.3 546.4 L284.4 546.9 L284.5 547.5 L284.6 548.0 L284.7 548.5 L284.8 549.1 L284.9 549.6 L285.0 550.1 L285.1 550.6 L285.2 551.1 L285.2 551.7 L285.3 552.2 L285.4 552.7 L285.5 553.2 L285.6 553.7 L285.7 554.2 L285.8 554.7 L285.9 555.2 L286.1 555.7 L286.2 556.2 L286.3 556.6 L286.4 557.1 L286.5 557.6 L286.6 558.1 L286.7 558.6 L286.8 559.1 L286.9 559.5 L287.0 560.0 L287.1 560.5 L287.2 560.9 L287.3 561.4 L287.4 561.9 L287.5 562.3 L287.7 562.8 L287.8 563.2 L287.9 563.7 L288.0 564.1 L288.1 564.6 L288.2 565.0 L288.4 565.4 L288.5 565.9 L288.6 566.3 L288.7 566.7 L288.8 567.2 L288.9 567.6 L289.0 568.0 L289.2 568.5 L289.3 568.9 L289.4 569.3 L289.5 569.7 L289.6 570.2 L289.7 570.6 L289.8 571.0 L289.9 571.4 L290.0 571.8 L290.1 572.2 L290.1 572.6 L290.2 573.0 L290.3 573.3 L290.4 573.7 L290.4 574.1 L290.5 574.5 L290.6 574.8 L290.7 575.2 L290.7 575.6 L290.8 576.0 L290.9 576.4 L291.0 576.7 L291.1 577.2 L291.2 577.6 L291.3 578.0 L291.5 578.5 L291.6 578.9 L291.8 579.4 L291.9 579.9 L292.1 580.4 L292.3 580.9 L292.5 581.5 L292.7 582.0" stroke="#ff0000" stroke-width="3.4" stroke-dasharray="14.10 10.31 2.20 10.31"/>
<path d="M292.7 582.0 L292.7 582.1 L293.0 582.7 L293.2 583.3 L293.5 584.0 L293.7 584.7 L294.0 585.3 L294.3 586.0 L294.6 586.7 L294.8 587.4 L295.1 588.1 L295.4 588.8 L295.7 589.5 L296.0 590.2 L296.3 590.9 L296.6 591.5 L297.0 592.2 L297.3 592.9 L297.6 593.5 L297.8 594.1 L298.1 594.7 L298.4 595.3 L298.7 595.8 L299.0 596.3 L299.2 596.8 L299.5 597.3 L299.8 597.8 L300.0 598.2 L300.3 598.6 L300.6 599.1 L300.8 599.5 L301.1 599.9 L301.4 600.3 L301.6 600.6 L301.9 601.0 L302.2 601.4 L302.4 601.8 L302.7 602.1 L303.0 602.5 L303.3 602.9 L303.5 603.3 L303.8 603.6 L304.1 604.0 L304.4 604.4 L304.7 604.8 L305.0 605.2 L305.3 605.6 L305.6 606.0 L305.9 606.4 L306.2 606.8 L306.5 607.3 L306.8 607.7 L307.1 608.1 L307.4 608.5 L307.7 608.9 L308.0 609.4 L308.3 609.8 L308.6 610.2 L308.9 610.6 L309.2 611.0 L309.5 611.5 L309.8 611.9 L310.2 612.3 L310.5 612.7 L310.9 613.2 L311.3 613.6 L311.7 614.0 L312.1 614.5 L312.5 614.9 L312.9 615.4 L313.4 615.8 L313.9 616.3 L314.4 616.7 L314.6 616.9" stroke="#ff0000" stroke-width="3.4" stroke-dasharray="14.10 12.67 2.20 12.67"/>
<path d="M314.7 616.9 L314.9 617.2 L315.5 617.7 L316.1 618.2 L316.7 618.7 L317.3 619.2 L317.9 619.7 L318.6 620.2 L319.2 620.7 L319.9 621.2 L320.5 621.7 L321.2 622.2 L321.8 622.7 L322.5 623.2 L323.1 623.6 L323.7 624.1 L324.4 624.5 L325.0 625.0 L325.5 625.4 L326.1 625.8 L326.6 626.2 L327.1 626.6 L327.6 626.9 L328.0 627.2 L328.5 627.5 L328.9 627.8 L329.2 628.1 L329.6 628.3 L330.0 628.6 L330.3 628.8 L330.6 629.0 L330.9 629.2 L331.2 629.4 L331.5 629.6 L331.8 629.7 L332.1 629.9 L332.3 630.1 L332.6 630.2 L332.9 630.4 L333.2 630.5 L333.5 630.7 L333.8 630.8 L334.1 631.0 L334.4 631.2 L334.7 631.3 L335.0 631.5 L335.4 631.7 L335.8 631.9 L336.1 632.1 L336.5 632.2 L336.9 632.4 L337.2 632.6 L337.6 632.8 L338.0 632.9 L338.3 633.1 L338.7 633.3 L339.1 633.5 L339.5 633.6 L339.9 633.8 L340.3 634.0 L340.7 634.1 L341.1 634.3 L341.5 634.5 L341.9 634.6 L342.4 634.8 L342.8 635.0 L343.3 635.2 L343.7 635.3 L344.2 635.5 L344.7 635.7 L345.2 635.9 L345.7 636.1 L346.3 636.3 L346.8 636.5" stroke="#ff0000" stroke-width="3.4" stroke-dasharray="14.10 10.79 2.20 10.79"/>
<path d="M346.8 636.5 L346.8 636.5 L347.4 636.7 L348.0 636.9 L348.7 637.1 L349.3 637.3 L349.9 637.5 L350.6 637.8 L351.3 638.0 L351.9 638.2 L352.6 638.4 L353.2 638.6 L353.9 638.8 L354.6 639.1 L355.2 639.3 L355.9 639.5 L356.5 639.7 L357.1 639.9 L357.7 640.1 L358.3 640.3 L358.8 640.4 L359.4 640.6 L359.9 640.8 L360.4 641.0 L360.9 641.1 L361.3 641.3 L361.8 641.4 L362.2 641.6 L362.6 641.8 L363.0 641.9 L363.4 642.0 L363.8 642.2 L364.1 642.3 L364.5 642.5 L364.9 642.6 L365.2 642.7 L365.6 642.8 L365.9 643.0 L366.3 643.1 L366.6 643.2 L367.0 643.3 L367.3 643.4 L367.7 643.6 L368.1 643.7 L368.4 643.8 L368.8 643.9 L369.2 644.0 L369.6 644.1 L370.0 644.2 L370.4 644.3 L370.7 644.4 L371.1 644.5 L371.5 644.5 L371.8 644.6 L372.2 644.7 L372.5 644.8 L372.9 644.8 L373.3 644.9 L373.7 645.0 L374.0 645.0 L374.4 645.1 L374.8 645.2 L375.2 645.2 L375.6 645.3 L376.1 645.4 L376.5 645.5 L377.0 645.5 L377.5 645.6 L378.0 645.7 L378.5 645.8 L379.0 645.9 L379.6 646.0 L380.2 646.1 L380.7 646.2" stroke="#ff0000" stroke-width="3.4" stroke-dasharray="14.10 9.51 2.20 9.51"/>
<path d="M380.7 646.2 L380.8 646.2 L381.4 646.4 L382.1 646.5 L382.8 646.6 L383.5 646.7 L384.3 646.9 L385.0 647.0 L385.8 647.2 L386.5 647.3 L387.3 647.4 L388.0 647.6 L388.8 647.7 L389.5 647.8 L390.3 648.0 L391.0 648.1 L391.7 648.2 L392.4 648.4 L393.0 648.5 L393.7 648.6 L394.3 648.7 L394.9 648.8 L395.4 648.9 L395.9 649.0 L396.4 649.1 L396.8 649.2 L397.3 649.2 L397.7 649.3 L398.1 649.4 L398.4 649.4 L398.8 649.5 L399.1 649.6 L399.4 649.6 L399.8 649.7 L400.1 649.7 L400.4 649.8 L400.7 649.8 L401.0 649.9 L401.3 649.9 L401.6 650.0 L401.9 650.0 L402.2 650.1 L402.5 650.1 L402.8 650.2 L403.2 650.2 L403.5 650.3 L403.9 650.3 L404.3 650.3 L404.6 650.4 L405.0 650.4 L405.4 650.5 L405.7 650.5 L406.1 650.6 L406.4 650.6 L406.8 650.6 L407.1 650.7 L407.5 650.7 L407.9 650.8 L408.2 650.8 L408.6 650.8 L409.0 650.9 L409.4 650.9 L409.8 650.9 L410.2 651.0 L410.6 651.0 L411.1 651.1 L411.5 651.1 L412.0 651.2 L412.5 651.2 L413.0 651.2 L413.5 651.3 L414.1 651.4 L414.6 651.4 L415.2 651.5" stroke="#ff0000" stroke-width="3.4" stroke-dasharray="14.10 9.32 2.20 9.32"/>
<path d="M415.2 651.5 L415.3 651.5 L415.9 651.5 L416.6 651.6 L417.3 651.7 L418.0 651.7 L418.7 651.8 L419.4 651.9 L420.2 651.9 L420.9 652.0 L421.7 652.1 L422.4 652.1 L423.1 652.2 L423.9 652.3 L424.6 652.3 L425.3 652.4 L426.0 652.5 L426.7 652.5 L427.3 652.6 L427.9 652.6 L428.5 652.7 L429.1 652.8 L429.6 652.8 L430.1 652.8 L430.5 652.9 L430.9 652.9 L431.2 653.0 L431.6 653.0 L431.9 653.0 L432.1 653.0 L432.4 653.1 L432.6 653.1 L432.8 653.1 L433.0 653.1 L433.3 653.1 L433.5 653.2 L433.7 653.2 L434.0 653.2 L434.2 653.2 L434.5 653.3 L434.8 653.3 L435.2 653.3 L435.5 653.3 L436.0 653.4 L436.4 653.4 L436.9 653.5 L437.5 653.5 L438.1 653.5 L438.8 653.6 L439.5 653.7 L440.3 653.7 L441.2 653.8 L442.0 653.8 L442.7 653.9" stroke="#ff0000" stroke-width="3.4" stroke-dasharray="14.10 8.20 2.20 100.00"/>
<path d="M442.7 653.9 L442.9 653.9 L443.9 654.0 L444.8 654.1 L445.8 654.1 L446.7 654.2 L447.7 654.3 L448.7 654.3 L449.7 654.4 L450.7 654.5 L451.6 654.6 L452.6 654.6 L453.5 654.7 L454.3 654.7 L455.2 654.8 L456.0 654.9 L456.7 654.9 L457.5 655.0 L458.1 655.0 L458.7 655.0 L459.3 655.1 L459.8 655.1 L460.3 655.1 L460.7 655.2 L461.2 655.2 L461.6 655.2 L461.9 655.2 L462.3 655.2 L462.6 655.2 L463.0 655.3 L463.3 655.3 L463.6 655.3 L463.9 655.3 L464.2 655.3 L464.5 655.3 L464.8 655.3 L465.1 655.3 L465.4 655.3 L465.7 655.4 L466.0 655.4 L466.4 655.4 L466.7 655.4 L467.1 655.4 L467.5 655.4 L467.9 655.4 L468.2 655.4 L468.6 655.5 L468.9 655.5 L469.3 655.5 L469.6 655.5 L470.0 655.5 L470.3 655.5 L470.7 655.5 L471.1 655.5 L471.4 655.5 L471.8 655.6 L472.2 655.6 L472.6 655.6 L473.0 655.6 L473.4 655.6 L473.8 655.6 L474.2 655.6 L474.7 655.6 L475.2 655.7 L475.6 655.7 L476.2 655.7 L476.7 655.7 L477.3 655.7 L477.9 655.7 L478.3 655.7" stroke="#ff0000" stroke-width="3.4" stroke-dasharray="14.10 9.68 2.20 9.68"/>
<path d="M478.3 655.7 L478.5 655.8 L479.2 655.8 L479.8 655.8 L480.6 655.8 L481.3 655.8 L482.0 655.9 L482.8 655.9 L483.5 655.9 L484.3 655.9 L485.1 656.0 L485.9 656.0 L486.6 656.0 L487.4 656.0 L488.1 656.1 L488.9 656.1 L489.6 656.1 L490.3 656.1 L491.0 656.1 L491.6 656.2 L492.3 656.2 L492.8 656.2 L493.4 656.2 L493.9 656.2 L494.4 656.2 L494.9 656.2 L495.3 656.2 L495.8 656.2 L496.2 656.3 L496.6 656.3 L497.0 656.3 L497.3 656.3 L497.7 656.3 L498.0 656.3 L498.4 656.3 L498.7 656.3 L499.0 656.3 L499.3 656.3 L499.7 656.3 L500.0 656.3 L500.3 656.3 L500.6 656.3 L501.0 656.3 L501.3 656.3 L501.7 656.3 L502.0 656.3 L502.4 656.3 L502.8 656.3 L503.1 656.3 L503.5 656.3 L503.8 656.3 L504.2 656.3 L504.5 656.3 L504.8 656.3 L505.1 656.3 L505.5 656.3 L505.8 656.4 L506.1 656.4 L506.5 656.4 L506.8 656.4 L507.2 656.4 L507.5 656.4 L507.9 656.4 L508.3 656.4 L508.7 656.4 L509.1 656.4 L509.6 656.4 L510.1 656.4 L510.5 656.4 L511.1 656.4 L511.6 656.4 L512.2 656.4 L512.8 656.4 L513.4 656.4 L513.9 656.4" stroke="#ff0000" stroke-width="3.4" stroke-dasharray="14.10 9.66 2.20 9.66"/>
<path d="M513.9 656.4 L514.1 656.4 L514.8 656.4 L515.6 656.4 L516.3 656.4 L517.1 656.4 L517.9 656.4 L518.7 656.4 L519.5 656.4 L520.3 656.4 L521.1 656.4 L521.9 656.4 L522.7 656.3 L523.5 656.3 L524.3 656.3 L525.0 656.3 L525.8 656.3 L526.5 656.3 L527.2 656.3 L527.8 656.3 L528.4 656.3 L529.0 656.3 L529.5 656.3 L530.0 656.3 L530.5 656.3 L531.0 656.3 L531.4 656.3 L531.8 656.3 L532.2 656.3 L532.6 656.3 L533.0 656.3 L533.3 656.3 L533.7 656.3 L534.0 656.2 L534.3 656.2 L534.7 656.2 L535.0 656.2 L535.3 656.2 L535.6 656.2 L535.9 656.2 L536.3 656.2 L536.6 656.2 L536.9 656.2 L537.3 656.2 L537.6 656.2 L538.0 656.2 L538.4 656.2 L538.7 656.2 L539.1 656.2 L539.4 656.2 L539.8 656.2 L540.1 656.2 L540.4 656.2 L540.7 656.2 L541.1 656.2 L541.4 656.2 L541.7 656.2 L542.1 656.2 L542.4 656.2 L542.8 656.1 L543.1 656.1 L543.5 656.1 L543.9 656.1 L544.3 656.1 L544.7 656.1 L545.2 656.1 L545.7 656.1 L546.1 656.1 L546.7 656.1 L547.2 656.1 L547.8 656.1 L548.4 656.1 L548.9 656.1" stroke="#ff0000" stroke-width="3.4" stroke-dasharray="14.10 9.35 2.20 9.35"/>
<path d="M548.9 656.1 L549.1 656.1 L549.7 656.1 L550.5 656.1 L551.2 656.1 L552.0 656.0 L552.7 656.0 L553.5 656.0 L554.4 656.0 L555.2 656.0 L556.0 656.0 L556.8 656.0 L557.6 656.0 L558.4 656.0 L559.2 656.0 L560.0 656.0 L560.8 656.0 L561.5 655.9 L562.2 655.9 L562.9 655.9 L563.5 655.9 L564.1 655.9 L564.7 655.9 L565.2 655.9 L565.7 655.9 L566.2 655.9 L566.6 655.9 L567.1 655.9 L567.5 655.8 L567.8 655.8 L568.2 655.8 L568.6 655.8 L568.9 655.8 L569.2 655.8 L569.5 655.8 L569.8 655.8 L570.1 655.8 L570.4 655.8 L570.7 655.8 L571.0 655.8 L571.3 655.7 L571.6 655.7 L571.9 655.7 L572.3 655.7 L572.6 655.7 L572.9 655.7 L573.3 655.7 L573.7 655.7 L574.0 655.7 L574.4 655.7 L574.7 655.7 L575.0 655.7 L575.4 655.7 L575.7 655.7 L576.0 655.7 L576.4 655.7 L576.7 655.7 L577.0 655.7 L577.4 655.7 L577.7 655.7 L578.1 655.7 L578.4 655.7 L578.8 655.7 L579.2 655.6 L579.6 655.6 L580.1 655.6 L580.5 655.6 L581.0 655.6 L581.5 655.6 L582.0 655.6 L582.5 655.6 L583.1 655.6 L583.7 655.6 L584.2 655.6" stroke="#ff0000" stroke-width="3.4" stroke-dasharray="14.10 9.50 2.20 9.50"/>
<path d="M584.2 655.6 L584.3 655.6 L585.0 655.5 L585.7 655.5 L586.4 655.5 L587.2 655.5 L587.9 655.5 L588.7 655.5 L589.5 655.4 L590.3 655.4 L591.1 655.4 L591.9 655.4 L592.6 655.4 L593.4 655.3 L594.2 655.3 L595.0 655.3 L595.7 655.3 L596.4 655.3 L597.1 655.3 L597.8 655.2 L598.4 655.2 L599.0 655.2 L599.6 655.2 L600.1 655.2 L600.6 655.2 L601.1 655.2 L601.5 655.2 L602.0 655.1 L602.4 655.1 L602.7 655.1 L603.1 655.1 L603.4 655.1 L603.8 655.1 L604.1 655.1 L604.4 655.1 L604.7 655.1 L605.1 655.1 L605.4 655.1 L605.7 655.1 L606.0 655.1 L606.3 655.0 L606.7 655.0 L607.0 655.0 L607.4 655.0 L607.8 655.0 L608.2 655.0 L608.6 655.0 L609.0 655.0 L609.5 655.0 L609.9 655.0 L610.3 655.0 L610.8 655.0 L611.2 655.0 L611.7 655.0 L612.1 654.9 L612.6 654.9 L613.0 654.9 L613.5 654.9 L614.0 654.9 L614.5 654.9 L615.0 654.9 L615.5 654.9 L616.0 654.9 L616.5 654.9 L617.0 654.9 L617.5 654.9 L618.1 654.9 L618.7 654.8 L619.2 654.8 L619.8 654.8 L620.4 654.8 L621.0 654.8 L621.7 654.8 L622.1 654.8" stroke="#ff0000" stroke-width="3.4" stroke-dasharray="14.10 10.80 2.20 10.80"/>
<path d="M622.1 654.8 L622.3 654.8 L623.0 654.7 L623.8 654.7 L624.5 654.7 L625.2 654.7 L626.0 654.7 L626.8 654.6 L627.5 654.6 L628.3 654.6 L629.1 654.6 L629.9 654.5 L630.7 654.5 L631.4 654.5 L632.2 654.5 L632.9 654.4 L633.7 654.4 L634.4 654.4 L635.0 654.4 L635.7 654.4 L636.3 654.3 L636.9 654.3 L637.5 654.3 L638.0 654.3 L638.5 654.3 L639.0 654.2 L639.4 654.2 L639.9 654.2 L640.3 654.2 L640.6 654.2 L641.0 654.2 L641.3 654.1 L641.7 654.1 L642.0 654.1 L642.3 654.1 L642.7 654.1 L643.0 654.1 L643.3 654.0 L643.6 654.0 L644.0 654.0 L644.3 654.0 L644.7 654.0 L645.0 654.0 L645.4 653.9 L645.8 653.9 L646.2 653.9 L646.7 653.9 L647.2 653.9 L647.7 653.9 L648.2 653.9 L648.7 653.8 L649.2 653.8 L649.7 653.8 L650.3 653.8 L650.8 653.8 L651.4 653.8 L652.0 653.7 L652.5 653.7 L653.1 653.7 L653.7 653.7 L654.3 653.7 L654.8 653.6 L655.4 653.6 L656.0 653.6 L656.6 653.6 L657.2 653.6 L657.7 653.6 L658.3 653.5 L658.9 653.5 L659.4 653.5 L660.0 653.5" stroke="#ff0000" stroke-width="3.4" stroke-dasharray="14.10 9.60 2.20 9.60"/>
<path d="M276.9 400.9 V296" stroke="#ff0000" stroke-width="3.4" stroke-dasharray="14.1 9.6 2.2 9.6"/>
<path d="M299.6 300.0 L299.6 302.5 L299.6 305.0 L299.6 307.6 L299.6 310.2 L299.6 312.7 L299.6 315.3 L299.6 317.9 L299.6 320.5 L299.6 323.1 L299.6 325.7 L299.6 328.3 L299.6 330.9 L299.6 333.4 L299.6 336.0 L299.6 338.5 L299.6 341.0 L299.6 343.5 L299.6 346.0 L299.6 348.4 L299.6 350.8 L299.6 353.2 L299.6 355.5 L299.6 357.8 L299.6 360.0 L299.6 362.2 L299.6 364.4 L299.6 366.6 L299.6 368.7 L299.6 370.9 L299.6 373.0 L299.6 375.1 L299.6 377.1 L299.6 379.2 L299.6 381.2 L299.6 383.2 L299.6 385.2 L299.6 387.1 L299.6 389.0 L299.6 390.9" stroke="#008000" stroke-width="3.4" stroke-dasharray="10.60 9.45 2.20 9.45 2.20 9.50" stroke-dashoffset="39.30"/>
<path d="M299.6 390.9 L299.6 390.9 L299.6 392.7 L299.7 394.5 L299.7 396.3 L299.7 398.0 L299.7 399.7 L299.7 401.4 L299.7 402.9 L299.7 404.5 L299.7 406.0 L299.7 407.5 L299.7 408.9 L299.7 410.2 L299.7 411.5 L299.7 412.8 L299.8 414.0 L299.8 415.1 L299.8 416.3 L299.8 417.4 L299.8 418.4 L299.8 419.5 L299.8 420.5 L299.8 421.4 L299.9 422.4 L299.9 423.3 L299.9 424.2 L299.9 425.1 L299.9 426.0 L299.9 426.8 L299.9 427.7 L300.0 428.5 L300.0 429.3 L300.0 430.2 L300.0 431.0 L300.0 431.8 L300.0 432.6 L300.0 433.4 L300.0 433.5" stroke="#008000" stroke-width="3.4" stroke-dasharray="10.60 9.18 2.20 9.18 2.20 9.23"/>
<path d="M300.0 433.5 L300.1 434.1 L300.1 434.8 L300.1 435.5 L300.1 436.2 L300.1 436.9 L300.1 437.5 L300.2 438.2 L300.2 438.8 L300.2 439.4 L300.2 440.0 L300.2 440.5 L300.3 441.1 L300.3 441.6 L300.3 442.2 L300.3 442.7 L300.3 443.2 L300.3 443.7 L300.4 444.2 L300.4 444.7 L300.4 445.2 L300.4 445.7 L300.4 446.2 L300.4 446.6 L300.4 447.1 L300.5 447.5 L300.5 447.8 L300.5 448.2 L300.5 448.6 L300.5 448.9 L300.5 449.3 L300.5 449.6 L300.5 449.9 L300.6 450.2 L300.6 450.5 L300.6 450.9 L300.6 451.2 L300.6 451.5 L300.6 451.8 L300.6 452.1 L300.6 452.5 L300.7 452.8 L300.7 453.2 L300.7 453.5 L300.7 453.9 L300.7 454.3 L300.7 454.7 L300.7 455.1 L300.7 455.5 L300.7 455.9 L300.7 456.4 L300.7 456.8 L300.7 457.2 L300.8 457.6 L300.8 458.0 L300.8 458.5 L300.8 458.9 L300.8 459.4 L300.8 459.8 L300.8 460.3 L300.8 460.7 L300.8 461.2 L300.8 461.7 L300.8 462.2 L300.8 462.7 L300.8 463.2 L300.8 463.7 L300.9 464.2 L300.9 464.7 L300.9 465.3 L300.9 465.9 L300.9 466.4 L301.0 467.0 L301.0 467.6 L301.0 468.3 L301.1 468.9 L301.1 469.5 L301.1 470.2 L301.2 470.8 L301.2 471.5 L301.2 472.2 L301.3 472.8 L301.3 473.5 L301.3 474.2 L301.4 474.9 L301.4 475.6 L301.4 476.0" stroke="#008000" stroke-width="3.4" stroke-dasharray="10.60 9.16 2.20 9.16 2.20 9.21"/>
<path d="M301.4 476.0 L301.4 476.2 L301.5 476.9 L301.5 477.6 L301.6 478.3 L301.6 479.0 L301.6 479.7 L301.7 480.3 L301.7 481.0 L301.7 481.7 L301.8 482.3 L301.8 483.0 L301.8 483.7 L301.9 484.4 L301.9 485.1 L302.0 485.8 L302.0 486.5 L302.0 487.2 L302.1 487.9 L302.1 488.6 L302.1 489.3 L302.2 490.0 L302.2 490.7 L302.3 491.4 L302.3 492.1 L302.3 492.8 L302.4 493.4 L302.4 494.1 L302.4 494.7 L302.5 495.3 L302.5 495.9 L302.6 496.5 L302.6 497.1 L302.6 497.7 L302.7 498.2 L302.7 498.7 L302.8 499.2 L302.8 499.6 L302.8 500.1 L302.9 500.5 L302.9 500.9 L302.9 501.4 L303.0 501.8 L303.0 502.2 L303.1 502.6 L303.1 503.0 L303.1 503.4 L303.2 503.8 L303.2 504.2 L303.3 504.7 L303.3 505.1 L303.3 505.5 L303.4 506.0 L303.4 506.5 L303.5 507.0 L303.5 507.5 L303.6 508.1 L303.7 508.7 L303.7 509.3 L303.8 509.9 L303.8 510.5 L303.9 511.2 L303.9 511.8 L304.0 512.5 L304.1 513.2 L304.1 513.9 L304.2 514.6 L304.2 515.3 L304.3 516.0 L304.4 516.7 L304.4 517.4 L304.5 518.1 L304.6 518.8 L304.7 519.6 L304.7 519.6" stroke="#008000" stroke-width="3.4" stroke-dasharray="10.60 9.55 2.20 9.55 2.20 9.60"/>
<path d="M304.7 519.6 L304.8 520.3 L304.8 521.0 L304.9 521.7 L305.0 522.4 L305.1 523.1 L305.2 523.8 L305.3 524.5 L305.4 525.2 L305.5 525.9 L305.6 526.6 L305.8 527.3 L305.9 528.0 L306.0 528.7 L306.1 529.4 L306.3 530.2 L306.4 530.9 L306.6 531.6 L306.7 532.3 L306.8 533.0 L307.0 533.7 L307.1 534.4 L307.3 535.1 L307.4 535.8 L307.6 536.5 L307.7 537.1 L307.9 537.8 L308.0 538.4 L308.1 539.0 L308.3 539.6 L308.4 540.2 L308.5 540.8 L308.6 541.3 L308.7 541.9 L308.8 542.4 L309.0 542.9 L309.1 543.4 L309.2 543.8 L309.3 544.3 L309.4 544.7 L309.5 545.2 L309.6 545.6 L309.7 546.0 L309.8 546.4 L309.9 546.8 L310.0 547.2 L310.1 547.6 L310.2 548.0 L310.3 548.4 L310.4 548.8 L310.5 549.2 L310.6 549.6 L310.7 550.0 L310.8 550.5 L310.9 550.9 L311.0 551.3 L311.1 551.7 L311.2 552.2 L311.3 552.6 L311.4 553.0 L311.5 553.4 L311.5 553.8 L311.6 554.3 L311.7 554.7 L311.8 555.1 L311.9 555.5 L312.0 555.9 L312.1 556.3 L312.1 556.8 L312.2 557.2 L312.3 557.6 L312.4 558.0 L312.5 558.4 L312.6 558.9 L312.7 559.3 L312.9 559.7 L313.0 560.2 L313.1 560.6 L313.3 561.1 L313.4 561.5 L313.6 562.0 L313.7 562.4 L313.9 562.9 L314.0 563.1" stroke="#008000" stroke-width="3.4" stroke-dasharray="10.60 9.83 2.20 9.83 2.20 9.88"/>
<path d="M314.0 563.1 L314.1 563.4 L314.2 563.8 L314.4 564.3 L314.6 564.8 L314.8 565.3 L315.0 565.8 L315.2 566.3 L315.4 566.7 L315.7 567.2 L315.9 567.7 L316.1 568.2 L316.3 568.7 L316.5 569.2 L316.8 569.7 L317.0 570.2 L317.2 570.6 L317.4 571.1 L317.6 571.6 L317.9 572.1 L318.1 572.5 L318.3 573.0 L318.5 573.5 L318.7 573.9 L318.9 574.4 L319.1 574.8 L319.3 575.3 L319.6 575.7 L319.8 576.1 L320.0 576.6 L320.2 577.0 L320.4 577.5 L320.6 577.9 L320.8 578.3 L321.0 578.8 L321.2 579.2 L321.5 579.6 L321.7 580.1 L321.9 580.5 L322.2 580.9 L322.4 581.3 L322.6 581.8 L322.9 582.2 L323.2 582.6 L323.4 583.1 L323.7 583.5 L324.0 583.9 L324.3 584.4 L324.6 584.8 L324.9 585.2 L325.2 585.7 L325.5 586.1 L325.8 586.5 L326.1 587.0 L326.5 587.4 L326.8 587.9 L327.1 588.3 L327.5 588.7 L327.8 589.2 L328.2 589.6 L328.5 590.0 L328.9 590.4 L329.2 590.9 L329.6 591.3 L329.9 591.7 L330.3 592.1 L330.6 592.6 L331.0 593.0 L331.3 593.4 L331.7 593.8 L332.1 594.2 L332.4 594.6 L332.8 595.0 L333.1 595.4 L333.5 595.8 L333.9 596.3 L334.2 596.7 L334.6 597.1 L335.0 597.5 L335.3 597.9 L335.7 598.3 L336.1 598.7 L336.5 599.1 L336.9 599.5 L337.2 599.9 L337.6 600.2 L338.0 600.6 L338.4 601.0 L338.8 601.4 L339.2 601.7 L339.6 602.1 L340.0 602.4 L340.4 602.8 L340.8 603.1 L341.2 603.4 L341.6 603.7 L342.1 604.1 L342.1 604.1" stroke="#008000" stroke-width="3.4" stroke-dasharray="10.60 11.78 2.20 11.78 2.20 11.84"/>
<path d="M342.2 604.1 L342.5 604.4 L342.9 604.7 L343.4 605.0 L343.8 605.3 L344.3 605.6 L344.7 605.8 L345.2 606.1 L345.6 606.4 L346.1 606.7 L346.5 606.9 L347.0 607.2 L347.4 607.5 L347.9 607.7 L348.3 608.0 L348.8 608.2 L349.2 608.5 L349.6 608.7 L350.1 609.0 L350.5 609.2 L350.9 609.5 L351.3 609.7 L351.7 609.9 L352.1 610.2 L352.4 610.4 L352.8 610.6 L353.2 610.8 L353.5 611.1 L353.9 611.3 L354.2 611.5 L354.6 611.7 L354.9 611.9 L355.2 612.1 L355.6 612.3 L355.9 612.5 L356.2 612.7 L356.6 612.9 L356.9 613.1 L357.3 613.3 L357.6 613.5 L358.0 613.6 L358.3 613.8 L358.7 614.0 L359.1 614.2 L359.5 614.4 L359.9 614.6 L360.3 614.8 L360.7 615.0 L361.2 615.2 L361.6 615.4 L362.1 615.6 L362.5 615.8 L363.0 616.0 L363.5 616.2 L363.9 616.3 L364.4 616.5 L364.9 616.7 L365.4 616.9 L365.8 617.1 L366.3 617.3 L366.8 617.5 L367.3 617.7 L367.7 617.8 L368.2 618.0 L368.7 618.2 L369.1 618.4 L369.6 618.5 L370.0 618.7 L370.5 618.8 L370.9 619.0 L371.3 619.2 L371.7 619.3 L372.1 619.4 L372.5 619.6 L372.9 619.7 L373.2 619.8 L373.6 620.0 L374.0 620.1 L374.3 620.2 L374.7 620.3 L375.0 620.5 L375.4 620.6 L375.7 620.7 L376.1 620.8 L376.5 620.9 L376.8 621.0 L377.2 621.2 L377.6 621.3 L378.0 621.4 L378.4 621.5 L378.8 621.6 L379.3 621.8 L379.7 621.9 L380.2 622.0 L380.7 622.1 L381.2 622.3 L381.8 622.4 L381.8 622.4" stroke="#008000" stroke-width="3.4" stroke-dasharray="10.60 9.63 2.20 9.63 2.20 9.68"/>
<path d="M381.8 622.4 L382.3 622.5 L382.9 622.7 L383.5 622.8 L384.1 622.9 L384.7 623.1 L385.4 623.2 L386.0 623.4 L386.7 623.5 L387.3 623.6 L387.9 623.8 L388.6 623.9 L389.2 624.0 L389.8 624.2 L390.4 624.3 L391.0 624.4 L391.6 624.5 L392.1 624.7 L392.7 624.8 L393.2 624.9 L393.6 625.0 L394.1 625.1 L394.5 625.2 L394.9 625.3 L395.3 625.4 L395.6 625.5 L396.0 625.6 L396.3 625.6 L396.5 625.7 L396.8 625.8 L397.1 625.9 L397.3 625.9 L397.6 626.0 L397.8 626.1 L398.1 626.2 L398.3 626.2 L398.5 626.3 L398.8 626.4 L399.0 626.4 L399.3 626.5 L399.5 626.6 L399.8 626.6 L400.1 626.7 L400.4 626.8 L400.8 626.8 L401.1 626.9 L401.5 627.0 L401.8 627.0 L402.2 627.1 L402.6 627.2 L403.0 627.3 L403.5 627.3 L403.9 627.4 L404.3 627.5 L404.8 627.6 L405.2 627.6 L405.6 627.7 L406.1 627.8 L406.5 627.9 L407.0 627.9 L407.4 628.0 L407.9 628.1 L408.3 628.1 L408.8 628.2 L409.2 628.3 L409.7 628.3 L410.1 628.4 L410.6 628.5 L411.0 628.5 L411.4 628.6 L411.8 628.7 L412.2 628.7 L412.6 628.8 L413.0 628.8 L413.4 628.9 L413.8 628.9 L414.2 629.0 L414.5 629.1 L414.9 629.1 L415.3 629.2 L415.7 629.2 L416.0 629.3 L416.4 629.3 L416.8 629.4 L417.2 629.4 L417.6 629.5 L418.0 629.5 L418.4 629.6 L418.8 629.6 L419.2 629.7 L419.6 629.7 L420.1 629.8 L420.5 629.8 L421.0 629.9 L421.5 630.0 L422.0 630.0 L422.5 630.1 L422.9 630.1" stroke="#008000" stroke-width="3.4" stroke-dasharray="10.60 8.92 2.20 8.92 2.20 8.96"/>
<path d="M422.9 630.1 L423.0 630.1 L423.5 630.2 L424.1 630.3 L424.7 630.3 L425.2 630.4 L425.8 630.5 L426.4 630.5 L426.9 630.6 L427.5 630.7 L428.1 630.7 L428.7 630.8 L429.2 630.9 L429.8 630.9 L430.4 631.0 L430.9 631.1 L431.4 631.1 L432.0 631.2 L432.5 631.2 L433.0 631.3 L433.4 631.3 L433.9 631.4 L434.3 631.4 L434.8 631.5 L435.2 631.5 L435.6 631.6 L435.9 631.6 L436.3 631.7 L436.6 631.7 L437.0 631.8 L437.3 631.8 L437.7 631.8 L438.0 631.9 L438.3 631.9 L438.6 631.9 L438.9 632.0 L439.3 632.0 L439.6 632.0 L439.9 632.1 L440.3 632.1 L440.6 632.1 L441.0 632.2 L441.3 632.2 L441.7 632.2 L442.1 632.3 L442.5 632.3 L442.9 632.3 L443.4 632.4 L443.8 632.4 L444.3 632.4 L444.7 632.4 L445.2 632.5 L445.7 632.5 L446.2 632.5 L446.6 632.6 L447.1 632.6 L447.6 632.6 L448.1 632.6 L448.6 632.7 L449.1 632.7 L449.6 632.7 L450.1 632.7 L450.6 632.7 L451.1 632.8 L451.5 632.8 L452.0 632.8 L452.5 632.8 L452.9 632.9 L453.4 632.9 L453.8 632.9 L454.2 632.9 L454.6 632.9 L455.0 633.0 L455.4 633.0 L455.8 633.0 L456.1 633.0 L456.5 633.0 L456.8 633.1 L457.2 633.1 L457.5 633.1 L457.9 633.1 L458.2 633.1 L458.6 633.1 L458.9 633.2 L459.2 633.2 L459.6 633.2 L460.0 633.2 L460.3 633.2 L460.7 633.2 L461.1 633.2 L461.5 633.3 L461.9 633.3 L462.4 633.3 L462.8 633.3 L463.3 633.3 L463.7 633.3 L464.2 633.3 L464.7 633.4" stroke="#008000" stroke-width="3.4" stroke-dasharray="10.60 8.97 2.20 8.97 2.20 9.02"/>
<path d="M464.7 633.4 L464.8 633.4 L465.3 633.4 L465.8 633.4 L466.4 633.4 L466.9 633.4 L467.5 633.4 L468.0 633.4 L468.6 633.4 L469.2 633.5 L469.8 633.5 L470.3 633.5 L470.9 633.5 L471.5 633.5 L472.0 633.5 L472.6 633.5 L473.1 633.5 L473.6 633.6 L474.1 633.6 L474.6 633.6 L475.1 633.6 L475.6 633.6 L476.1 633.6 L476.5 633.6 L476.9 633.6 L477.3 633.6 L477.7 633.6 L478.1 633.7 L478.5 633.7 L478.9 633.7 L479.2 633.7 L479.6 633.7 L480.0 633.7 L480.3 633.7 L480.7 633.7 L481.0 633.7 L481.4 633.7 L481.8 633.7 L482.1 633.7 L482.5 633.8 L482.8 633.8 L483.2 633.8 L483.6 633.8 L484.0 633.8 L484.4 633.8 L484.8 633.8 L485.2 633.8 L485.6 633.8 L486.1 633.8 L486.5 633.8 L486.9 633.8 L487.4 633.9 L487.8 633.9 L488.3 633.9 L488.7 633.9 L489.2 633.9 L489.7 633.9 L490.1 633.9 L490.6 633.9 L491.0 633.9 L491.5 633.9 L492.0 633.9 L492.4 634.0 L492.9 634.0 L493.3 634.0 L493.8 634.0 L494.2 634.0 L494.6 634.0 L495.1 634.0 L495.5 634.0 L495.9 634.0 L496.3 634.0 L496.7 634.0 L497.1 634.0 L497.5 634.0 L497.9 634.0 L498.3 634.0 L498.7 634.0 L499.1 634.0 L499.4 634.0 L499.8 634.0 L500.2 634.0 L500.6 634.0 L501.0 634.0 L501.3 634.0 L501.7 634.0 L502.1 634.0 L502.5 634.0 L503.0 634.0 L503.4 634.0 L503.8 634.0 L504.3 634.0 L504.7 634.0 L505.2 634.0 L505.7 634.0 L506.2 634.0 L506.7 634.0" stroke="#008000" stroke-width="3.4" stroke-dasharray="10.60 8.99 2.20 8.99 2.20 9.03"/>
<path d="M506.7 634.0 L506.7 634.0 L507.3 634.0 L507.8 634.0 L508.4 634.0 L509.0 634.0 L509.5 634.0 L510.1 634.0 L510.7 634.0 L511.3 634.1 L511.9 634.1 L512.5 634.1 L513.1 634.1 L513.7 634.1 L514.3 634.1 L514.8 634.1 L515.4 634.1 L516.0 634.1 L516.5 634.1 L517.0 634.1 L517.5 634.1 L518.0 634.1 L518.5 634.1 L519.0 634.1 L519.4 634.1 L519.8 634.1 L520.2 634.1 L520.6 634.1 L521.0 634.1 L521.3 634.1 L521.7 634.1 L522.0 634.1 L522.4 634.1 L522.7 634.1 L523.0 634.1 L523.4 634.1 L523.7 634.1 L524.0 634.1 L524.3 634.0 L524.7 634.0 L525.0 634.0 L525.4 634.0 L525.7 634.0 L526.1 634.0 L526.5 634.0 L526.9 634.0 L527.3 634.0 L527.7 634.0 L528.2 634.0 L528.6 634.0 L529.1 634.0 L529.5 634.0 L530.0 634.0 L530.5 633.9 L530.9 633.9 L531.4 633.9 L531.9 633.9 L532.4 633.9 L532.9 633.9 L533.4 633.9 L533.9 633.9 L534.4 633.9 L534.9 633.9 L535.3 633.8 L535.8 633.8 L536.3 633.8 L536.8 633.8 L537.2 633.8 L537.7 633.8 L538.2 633.8 L538.6 633.8 L539.0 633.8 L539.5 633.8 L539.9 633.8 L540.3 633.8 L540.7 633.8 L541.1 633.8 L541.5 633.8 L541.8 633.8 L542.2 633.8 L542.6 633.8 L543.0 633.8 L543.4 633.8 L543.7 633.8 L544.1 633.8 L544.5 633.8 L544.9 633.8 L545.3 633.8 L545.7 633.8 L546.1 633.8 L546.5 633.8 L547.0 633.8 L547.4 633.8 L547.8 633.8 L548.3 633.8 L548.8 633.8 L549.3 633.8 L549.8 633.8 L550.0 633.8" stroke="#008000" stroke-width="3.4" stroke-dasharray="10.60 9.42 2.20 9.42 2.20 9.47"/>
<path d="M550.0 633.8 L550.3 633.8 L550.8 633.8 L551.4 633.8 L551.9 633.8 L552.5 633.8 L553.0 633.7 L553.6 633.7 L554.2 633.7 L554.7 633.7 L555.3 633.7 L555.9 633.7 L556.4 633.7 L557.0 633.7 L557.5 633.7 L558.1 633.7 L558.6 633.7 L559.1 633.6 L559.7 633.6 L560.1 633.6 L560.6 633.6 L561.1 633.6 L561.6 633.6 L562.0 633.6 L562.4 633.6 L562.8 633.6 L563.2 633.5 L563.6 633.5 L564.0 633.5 L564.4 633.5 L564.7 633.5 L565.1 633.5 L565.5 633.5 L565.8 633.5 L566.2 633.4 L566.5 633.4 L566.9 633.4 L567.2 633.4 L567.6 633.4 L568.0 633.4 L568.3 633.4 L568.7 633.4 L569.1 633.3 L569.5 633.3 L569.9 633.3 L570.3 633.3 L570.7 633.3 L571.2 633.3 L571.6 633.3 L572.1 633.2 L572.5 633.2 L573.0 633.2 L573.4 633.2 L573.9 633.2 L574.4 633.1 L574.9 633.1 L575.3 633.1 L575.8 633.1 L576.3 633.1 L576.8 633.1 L577.3 633.0 L577.7 633.0 L578.2 633.0 L578.7 633.0 L579.1 633.0 L579.6 633.0 L580.1 632.9 L580.5 632.9 L581.0 632.9 L581.4 632.9 L581.8 632.9 L582.2 632.9 L582.7 632.9 L583.1 632.9 L583.5 632.8 L583.9 632.8 L584.2 632.8 L584.6 632.8 L585.0 632.8 L585.4 632.8 L585.8 632.8 L586.1 632.8 L586.5 632.8 L586.9 632.8 L587.3 632.8 L587.7 632.8 L588.1 632.8 L588.5 632.7 L588.9 632.7 L589.3 632.7 L589.7 632.7 L590.2 632.7 L590.6 632.7 L591.1 632.7 L591.6 632.7 L592.1 632.7 L592.6 632.7 L592.8 632.7" stroke="#008000" stroke-width="3.4" stroke-dasharray="10.60 9.26 2.20 9.26 2.20 9.30"/>
<path d="M592.8 632.7 L593.1 632.7 L593.6 632.7 L594.2 632.7 L594.7 632.6 L595.3 632.6 L595.9 632.6 L596.4 632.6 L597.0 632.6 L597.6 632.6 L598.1 632.6 L598.7 632.6 L599.3 632.6 L599.8 632.6 L600.4 632.6 L600.9 632.6 L601.5 632.6 L602.0 632.5 L602.5 632.5 L603.0 632.5 L603.4 632.5 L603.9 632.5 L604.3 632.5 L604.8 632.5 L605.2 632.5 L605.5 632.4 L605.9 632.4 L606.3 632.4 L606.6 632.4 L607.0 632.4 L607.3 632.4 L607.6 632.3 L608.0 632.3 L608.3 632.3 L608.6 632.3 L608.9 632.3 L609.3 632.3 L609.6 632.2 L609.9 632.2 L610.3 632.2 L610.6 632.2 L611.0 632.2 L611.3 632.1 L611.7 632.1 L612.1 632.1 L612.5 632.1 L612.9 632.1 L613.3 632.1 L613.7 632.1 L614.2 632.0 L614.6 632.0 L615.0 632.0 L615.4 632.0 L615.9 632.0 L616.3 632.0 L616.7 632.0 L617.2 632.0 L617.6 632.0 L618.1 632.0 L618.6 631.9 L619.0 631.9 L619.5 631.9 L620.0 631.9 L620.5 631.9 L621.0 631.9 L621.6 631.9 L622.1 631.9 L622.7 631.8 L623.2 631.8 L623.8 631.8 L624.4 631.8 L625.0 631.8 L625.7 631.7 L626.3 631.7 L627.0 631.7 L627.7 631.7 L628.4 631.6 L629.2 631.6 L629.9 631.6 L630.6 631.6 L631.4 631.5 L632.1 631.5 L632.9 631.5 L633.6 631.5 L634.4 631.4 L635.1 631.4 L635.9 631.4 L636.6 631.3 L637.3 631.3 L638.0 631.3 L638.7 631.3 L639.4 631.2 L640.1 631.2 L640.7 631.2 L641.3 631.2 L642.0 631.2 L642.4 631.1" stroke="#008000" stroke-width="3.4" stroke-dasharray="10.60 8.20 2.20 8.90 2.20 100.00"/>
<path d="M642.4 631.1 L642.6 631.1 L643.2 631.1 L643.8 631.1 L644.4 631.1 L645.1 631.1 L645.7 631.0 L646.3 631.0 L646.9 631.0 L647.5 631.0 L648.0 631.0 L648.6 631.0 L649.2 630.9 L649.7 630.9 L650.2 630.9 L650.8 630.9 L651.3 630.9 L651.8 630.9 L652.2 630.9 L652.7 630.8 L653.2 630.8 L653.6 630.8 L654.0 630.8 L654.4 630.8 L654.8 630.8 L655.1 630.8 L655.4 630.8 L655.7 630.7 L656.0 630.7 L656.3 630.7 L656.5 630.7 L656.8 630.7 L657.0 630.7 L657.2 630.7 L657.5 630.7 L657.7 630.7 L657.9 630.7 L658.1 630.7 L658.3 630.7 L658.5 630.7 L658.7 630.6 L658.9 630.6 L659.1 630.6 L659.3 630.6 L659.5 630.6 L659.8 630.6 L660.0 630.6" stroke="#008000" stroke-width="3.4" stroke-dasharray="10.60 9.45 2.20 9.45 2.20 9.50"/>
<path d="M298.3 405.2 V296" stroke="#008000" stroke-width="3.4" stroke-dasharray="10.6 9.45 2.2 9.45 2.2 9.5"/>
<path d="M334.1 317.2 L334.1 317.2 L334.1 318.4 L334.1 319.5 L334.1 320.7 L334.1 321.8 L334.2 323.0 L334.2 324.1 L334.2 325.2 L334.2 326.4 L334.2 327.5 L334.2 328.7 L334.2 329.8 L334.2 331.0 L334.2 332.1 L334.3 333.3 L334.3 334.4 L334.3 335.6 L334.3 336.7 L334.3 337.9 L334.3 339.1 L334.3 340.2 L334.3 341.4 L334.4 342.6 L334.4 342.8" stroke="#ff8000" stroke-width="3.4" stroke-dasharray="4.40 8.45"/>
<path d="M334.4 342.8 L334.4 343.8 L334.4 345.0 L334.4 346.2 L334.4 347.4 L334.5 348.7 L334.5 349.9 L334.5 351.2 L334.5 352.5 L334.5 353.7 L334.6 355.0 L334.6 356.3 L334.6 357.6 L334.6 358.9 L334.7 360.2 L334.7 361.5 L334.7 362.7 L334.7 364.0 L334.8 365.3 L334.8 366.5 L334.8 367.8 L334.8 368.4" stroke="#ff8000" stroke-width="3.4" stroke-dasharray="4.40 8.40"/>
<path d="M334.8 368.4 L334.9 369.0 L334.9 370.3 L334.9 371.5 L334.9 372.7 L335.0 373.8 L335.0 375.0 L335.0 376.1 L335.1 377.3 L335.1 378.4 L335.1 379.5 L335.2 380.6 L335.2 381.7 L335.2 382.7 L335.3 383.8 L335.3 384.9 L335.3 385.9 L335.4 387.0 L335.4 388.0 L335.5 389.0 L335.5 390.0 L335.5 391.1 L335.6 392.1 L335.6 393.1 L335.6 394.1 L335.6 394.1" stroke="#ff8000" stroke-width="3.4" stroke-dasharray="4.40 8.46"/>
<path d="M335.6 394.1 L335.7 395.1 L335.7 396.1 L335.8 397.1 L335.8 398.0 L335.9 399.0 L335.9 400.0 L335.9 401.0 L336.0 401.9 L336.0 402.9 L336.1 403.8 L336.1 404.7 L336.2 405.7 L336.2 406.6 L336.3 407.5 L336.3 408.4 L336.4 409.3 L336.4 410.2 L336.4 411.1 L336.5 412.0 L336.5 412.9 L336.6 413.8 L336.7 414.7 L336.7 415.5 L336.8 416.5 L336.8 417.4 L336.9 418.3 L336.9 419.2 L337.0 419.8" stroke="#ff8000" stroke-width="3.4" stroke-dasharray="4.40 8.46"/>
<path d="M337.0 419.8 L337.0 420.1 L337.0 421.1 L337.1 422.0 L337.2 423.0 L337.2 423.9 L337.3 425.0 L337.4 426.0 L337.4 427.0 L337.5 428.0 L337.6 429.1 L337.6 430.2 L337.7 431.2 L337.8 432.3 L337.9 433.3 L337.9 434.4 L338.0 435.4 L338.1 436.5 L338.2 437.5 L338.2 438.5 L338.3 439.5 L338.4 440.5 L338.5 441.4 L338.5 442.3 L338.6 443.2 L338.6 443.5" stroke="#ff8000" stroke-width="3.4" stroke-dasharray="4.40 7.48"/>
<path d="M338.6 443.5 L338.7 444.1 L338.7 444.9 L338.8 445.7 L338.9 446.5 L338.9 447.2 L339.0 447.9 L339.1 448.5 L339.1 449.2 L339.2 449.8 L339.2 450.4 L339.3 450.9 L339.4 451.5 L339.4 452.0 L339.5 452.5 L339.5 453.0 L339.6 453.5 L339.6 454.0 L339.7 454.5 L339.8 455.0 L339.8 455.5 L339.9 456.0 L340.0 456.5 L340.0 456.9" stroke="#ff8000" stroke-width="3.4" stroke-dasharray="4.40 9.09"/>
<path d="M340.0 456.9 L340.0 457.0 L340.1 457.5 L340.2 458.0 L340.2 458.5 L340.3 459.1 L340.4 459.7 L340.4 460.2 L340.5 460.8 L340.6 461.4 L340.7 461.9 L340.8 462.5 L340.8 463.0 L340.9 463.6 L341.0 464.2 L341.1 464.7 L341.2 465.3 L341.2 465.9 L341.3 466.4 L341.4 467.0 L341.5 467.6 L341.6 468.1 L341.7 468.7 L341.8 469.3 L341.8 469.8 L341.9 470.4 L341.9 470.4" stroke="#ff8000" stroke-width="3.4" stroke-dasharray="4.40 9.25"/>
<path d="M341.9 470.4 L342.0 470.9 L342.1 471.5 L342.2 472.0 L342.3 472.6 L342.4 473.2 L342.5 473.7 L342.6 474.3 L342.7 474.8 L342.8 475.3 L342.8 475.9 L342.9 476.4 L343.0 477.0 L343.1 477.5 L343.2 478.1 L343.3 478.6 L343.4 479.2 L343.5 479.7 L343.6 480.2 L343.7 480.8 L343.8 481.3 L343.9 481.8 L344.0 482.4 L344.1 482.9 L344.2 483.4" stroke="#ff8000" stroke-width="3.4" stroke-dasharray="4.40 8.82"/>
<path d="M344.2 483.4 L344.2 483.5 L344.3 484.0 L344.5 484.5 L344.6 485.1 L344.7 485.6 L344.8 486.1 L344.9 486.7 L345.1 487.2 L345.2 487.7 L345.3 488.3 L345.5 488.8 L345.6 489.3 L345.7 489.9 L345.9 490.4 L346.0 490.9 L346.1 491.4 L346.3 492.0 L346.4 492.5 L346.6 493.0 L346.7 493.6 L346.9 494.1 L347.0 494.6 L347.2 495.1 L347.3 495.7 L347.5 496.2" stroke="#ff8000" stroke-width="3.4" stroke-dasharray="4.40 8.75"/>
<path d="M347.5 496.2 L347.6 496.7 L347.8 497.2 L347.9 497.8 L348.1 498.3 L348.3 498.8 L348.4 499.4 L348.6 499.9 L348.8 500.4 L348.9 501.0 L349.1 501.5 L349.3 502.0 L349.4 502.6 L349.6 503.1 L349.8 503.6 L350.0 504.1 L350.2 504.7 L350.3 505.2 L350.5 505.7 L350.7 506.3 L350.9 506.8 L351.1 507.3 L351.3 507.9 L351.5 508.4 L351.7 508.9 L351.7 508.9" stroke="#ff8000" stroke-width="3.4" stroke-dasharray="4.40 9.04"/>
<path d="M351.7 509.0 L351.9 509.4 L352.1 510.0 L352.3 510.5 L352.5 511.0 L352.7 511.5 L352.9 512.0 L353.1 512.5 L353.4 513.1 L353.6 513.6 L353.8 514.1 L354.0 514.6 L354.2 515.1 L354.4 515.6 L354.7 516.1 L354.9 516.6 L355.1 517.1 L355.4 517.6 L355.6 518.1 L355.9 518.6 L356.1 519.1 L356.3 519.6 L356.6 520.1 L356.9 520.6 L357.1 521.1 L357.2 521.2" stroke="#ff8000" stroke-width="3.4" stroke-dasharray="4.40 9.07"/>
<path d="M357.2 521.3 L357.4 521.6 L357.6 522.2 L357.9 522.7 L358.2 523.2 L358.5 523.7 L358.8 524.3 L359.1 524.8 L359.4 525.4 L359.7 525.9 L360.0 526.5 L360.3 527.0 L360.6 527.6 L361.0 528.2 L361.3 528.8 L361.6 529.3 L361.9 529.9 L362.3 530.5 L362.6 531.0 L363.0 531.6 L363.3 532.1 L363.6 532.7 L364.0 533.2 L364.3 533.7 L364.7 534.2 L364.7 534.4" stroke="#ff8000" stroke-width="3.4" stroke-dasharray="4.40 10.77"/>
<path d="M364.8 534.4 L365.0 534.8 L365.3 535.2 L365.7 535.7 L366.0 536.2 L366.3 536.7 L366.7 537.1 L367.0 537.6 L367.4 538.0 L367.7 538.4 L368.1 538.9 L368.4 539.3 L368.8 539.7 L369.1 540.1 L369.5 540.5 L369.8 540.9 L370.2 541.3 L370.6 541.7 L370.9 542.1 L371.2 542.4 L371.6 542.8 L371.9 543.1 L372.3 543.5 L372.6 543.8 L372.9 544.2 L373.2 544.5 L373.5 544.8 L373.8 545.1 L374.1 545.4 L374.4 545.7 L374.6 546.0 L374.9 546.2 L375.1 546.5" stroke="#ff8000" stroke-width="3.4" stroke-dasharray="4.40 11.55"/>
<path d="M375.1 546.5 L375.2 546.5 L375.4 546.7 L375.6 547.0 L375.9 547.2 L376.1 547.4 L376.3 547.6 L376.5 547.8 L376.7 548.0 L377.0 548.2 L377.2 548.4 L377.4 548.5 L377.6 548.7 L377.8 548.9 L378.0 549.1 L378.2 549.2 L378.4 549.4 L378.6 549.6 L378.8 549.8 L379.1 549.9 L379.3 550.1 L379.5 550.3 L379.7 550.5 L380.0 550.7 L380.2 550.8 L380.4 551.0 L380.6 551.2 L380.9 551.4 L381.1 551.5 L381.3 551.7 L381.6 551.9 L381.8 552.0 L382.0 552.2 L382.3 552.3 L382.5 552.5 L382.7 552.7 L383.0 552.8 L383.2 553.0 L383.4 553.1 L383.7 553.3 L383.9 553.4 L384.1 553.6 L384.4 553.7 L384.6 553.9 L384.9 554.0 L385.1 554.2 L385.3 554.4 L385.6 554.5 L385.8 554.7 L386.1 554.8 L386.2 554.9" stroke="#ff8000" stroke-width="3.4" stroke-dasharray="4.40 9.58"/>
<path d="M386.2 554.9 L386.4 554.9 L386.6 555.1 L386.9 555.2 L387.1 555.4 L387.4 555.5 L387.6 555.7 L387.9 555.8 L388.2 555.9 L388.4 556.1 L388.7 556.2 L388.9 556.4 L389.2 556.5 L389.5 556.6 L389.7 556.8 L390.0 556.9 L390.2 557.1 L390.5 557.2 L390.7 557.3 L391.0 557.5 L391.2 557.6 L391.4 557.7 L391.7 557.9 L391.9 558.0 L392.1 558.2 L392.4 558.3 L392.6 558.4 L392.8 558.6 L393.0 558.7 L393.2 558.8 L393.5 559.0 L393.7 559.1 L393.9 559.2 L394.1 559.4 L394.3 559.5 L394.5 559.6 L394.8 559.8 L395.0 559.9 L395.2 560.0 L395.4 560.2 L395.7 560.3 L395.9 560.4 L396.1 560.6 L396.4 560.7 L396.6 560.8 L396.8 560.9 L397.1 561.0" stroke="#ff8000" stroke-width="3.4" stroke-dasharray="4.40 8.06"/>
<path d="M397.1 561.0 L397.1 561.0 L397.3 561.2 L397.6 561.3 L397.9 561.4 L398.1 561.5 L398.4 561.6 L398.6 561.7 L398.9 561.9 L399.2 562.0 L399.4 562.1 L399.7 562.2 L400.0 562.3 L400.2 562.4 L400.5 562.5 L400.8 562.6 L401.0 562.7 L401.3 562.8 L401.5 563.0 L401.8 563.1 L402.1 563.2 L402.3 563.3 L402.6 563.4 L402.8 563.5 L403.0 563.6 L403.3 563.7 L403.5 563.8 L403.7 563.9 L403.9 564.1 L404.2 564.2 L404.4 564.3 L404.6 564.4 L404.8 564.5 L405.0 564.6 L405.2 564.7 L405.4 564.8 L405.6 564.9 L405.8 565.0 L406.1 565.1 L406.3 565.3 L406.5 565.4 L406.7 565.5 L407.0 565.6 L407.2 565.7 L407.4 565.8 L407.7 565.9 L407.9 566.0 L408.2 566.1 L408.5 566.2 L408.8 566.3 L409.1 566.4 L409.4 566.5 L409.7 566.6 L409.9 566.7" stroke="#ff8000" stroke-width="3.4" stroke-dasharray="4.40 9.61"/>
<path d="M409.9 566.7 L410.0 566.7 L410.3 566.8 L410.6 566.9 L411.0 567.1 L411.3 567.2 L411.6 567.3 L412.0 567.4 L412.3 567.5 L412.6 567.6 L413.0 567.7 L413.3 567.8 L413.6 567.9 L413.9 568.0 L414.2 568.1 L414.6 568.2 L414.9 568.2 L415.1 568.3 L415.4 568.4 L415.7 568.5 L416.0 568.6 L416.2 568.7 L416.5 568.7 L416.7 568.8 L416.9 568.9 L417.1 568.9 L417.4 569.0 L417.6 569.1 L417.8 569.1 L418.0 569.2 L418.2 569.2 L418.4 569.3 L418.6 569.4 L418.8 569.4 L419.0 569.5 L419.2 569.5 L419.4 569.6 L419.6 569.6 L419.8 569.7 L420.0 569.7 L420.3 569.8 L420.5 569.9 L420.7 569.9 L421.0 570.0 L421.3 570.1 L421.5 570.1 L421.8 570.2 L422.1 570.3 L422.4 570.3" stroke="#ff8000" stroke-width="3.4" stroke-dasharray="4.40 8.61"/>
<path d="M422.4 570.3 L422.4 570.4 L422.7 570.4 L423.0 570.5 L423.3 570.6 L423.6 570.6 L423.9 570.7 L424.2 570.8 L424.5 570.9 L424.9 570.9 L425.2 571.0 L425.5 571.1 L425.8 571.2 L426.1 571.2 L426.4 571.3 L426.7 571.4 L427.0 571.4 L427.3 571.5 L427.6 571.6 L427.8 571.6 L428.1 571.7 L428.4 571.8 L428.6 571.8 L428.8 571.9 L429.1 571.9 L429.3 572.0 L429.5 572.0 L429.7 572.1 L429.9 572.1 L430.2 572.1 L430.4 572.2 L430.6 572.2 L430.8 572.3 L431.0 572.3 L431.2 572.3 L431.4 572.4 L431.6 572.4 L431.8 572.5 L432.0 572.5 L432.3 572.6 L432.5 572.6 L432.7 572.6 L433.0 572.7 L433.2 572.7 L433.5 572.8 L433.8 572.9 L434.1 572.9 L434.4 573.0 L434.7 573.0 L435.0 573.1 L435.1 573.1" stroke="#ff8000" stroke-width="3.4" stroke-dasharray="4.40 8.68"/>
<path d="M435.1 573.1 L435.3 573.2 L435.6 573.2 L435.9 573.3 L436.3 573.4 L436.6 573.4 L437.0 573.5 L437.3 573.6 L437.6 573.7 L438.0 573.7 L438.3 573.8 L438.6 573.9 L439.0 573.9 L439.3 574.0 L439.6 574.0 L439.9 574.1 L440.2 574.2 L440.5 574.2 L440.7 574.3 L441.0 574.3 L441.2 574.3 L441.5 574.4 L441.7 574.4 L441.9 574.4 L442.1 574.5 L442.3 574.5 L442.5 574.5 L442.7 574.5 L442.8 574.6 L443.0 574.6 L443.2 574.6 L443.4 574.6 L443.5 574.6 L443.7 574.6 L443.9 574.7 L444.0 574.7 L444.2 574.7 L444.4 574.7 L444.6 574.7 L444.8 574.8 L445.0 574.8 L445.2 574.8 L445.5 574.9 L445.7 574.9 L446.0 574.9 L446.2 575.0 L446.5 575.0 L446.8 575.1 L447.1 575.1 L447.3 575.2" stroke="#ff8000" stroke-width="3.4" stroke-dasharray="4.40 7.97"/>
<path d="M447.3 575.2 L447.4 575.2 L447.7 575.2 L448.1 575.3 L448.4 575.4 L448.7 575.4 L449.1 575.5 L449.4 575.6 L449.8 575.6 L450.1 575.7 L450.4 575.7 L450.8 575.8 L451.1 575.9 L451.4 575.9 L451.7 576.0 L452.0 576.0 L452.3 576.1 L452.6 576.1 L452.9 576.2 L453.2 576.2 L453.5 576.2 L453.7 576.3 L454.0 576.3 L454.2 576.3 L454.4 576.4 L454.6 576.4 L454.8 576.4 L455.0 576.4 L455.3 576.5 L455.5 576.5 L455.7 576.5 L455.8 576.5 L456.0 576.5 L456.2 576.6 L456.4 576.6 L456.7 576.6 L456.9 576.6 L457.1 576.6 L457.3 576.7 L457.5 576.7 L457.7 576.7 L458.0 576.7 L458.2 576.8 L458.5 576.8 L458.8 576.8 L459.1 576.9 L459.3 576.9 L459.6 576.9 L460.0 577.0 L460.1 577.0" stroke="#ff8000" stroke-width="3.4" stroke-dasharray="4.40 8.52"/>
<path d="M460.1 577.0 L460.3 577.0 L460.6 577.1 L460.9 577.1 L461.2 577.1 L461.6 577.2 L461.9 577.2 L462.2 577.3 L462.6 577.3 L462.9 577.3 L463.2 577.4 L463.6 577.4 L463.9 577.5 L464.2 577.5 L464.5 577.5 L464.8 577.6 L465.1 577.6 L465.4 577.6 L465.7 577.7 L466.0 577.7 L466.3 577.7 L466.5 577.8 L466.8 577.8 L467.0 577.8 L467.2 577.8 L467.5 577.8 L467.7 577.8 L467.9 577.9 L468.1 577.9 L468.3 577.9 L468.5 577.9 L468.7 577.9 L468.9 577.9 L469.1 577.9 L469.4 578.0 L469.6 578.0 L469.8 578.0 L470.0 578.0 L470.2 578.0 L470.4 578.0 L470.7 578.0 L470.9 578.1 L471.1 578.1 L471.4 578.1 L471.7 578.1 L471.9 578.1 L472.2 578.2 L472.5 578.2 L472.7 578.2" stroke="#ff8000" stroke-width="3.4" stroke-dasharray="4.40 8.25"/>
<path d="M472.7 578.2 L472.8 578.2 L473.1 578.2 L473.4 578.3 L473.7 578.3 L474.0 578.3 L474.3 578.3 L474.6 578.4 L474.9 578.4 L475.2 578.4 L475.5 578.4 L475.8 578.5 L476.1 578.5 L476.4 578.5 L476.7 578.6 L477.0 578.6 L477.3 578.6 L477.6 578.6 L477.9 578.7 L478.1 578.7 L478.4 578.7 L478.7 578.7 L478.9 578.7 L479.1 578.8 L479.4 578.8 L479.6 578.8 L479.8 578.8 L480.0 578.9 L480.3 578.9 L480.5 578.9 L480.7 578.9 L480.9 578.9 L481.1 579.0 L481.3 579.0 L481.5 579.0 L481.7 579.0 L481.9 579.0 L482.1 579.1 L482.4 579.1 L482.6 579.1 L482.8 579.1 L483.0 579.1 L483.3 579.2 L483.5 579.2 L483.8 579.2 L484.1 579.2 L484.3 579.2 L484.6 579.3 L484.9 579.3 L485.2 579.3 L485.2 579.3" stroke="#ff8000" stroke-width="3.4" stroke-dasharray="4.40 8.14"/>
<path d="M485.2 579.3 L485.5 579.3 L485.8 579.3 L486.0 579.3 L486.3 579.4 L486.6 579.4 L486.9 579.4 L487.3 579.4 L487.6 579.4 L487.9 579.5 L488.2 579.5 L488.5 579.5 L488.8 579.5 L489.1 579.5 L489.4 579.5 L489.7 579.5 L490.1 579.6 L490.4 579.6 L490.7 579.6 L491.0 579.6 L491.3 579.6 L491.6 579.6 L491.9 579.6 L492.3 579.6 L492.6 579.7 L492.9 579.7 L493.2 579.7 L493.6 579.7 L493.9 579.7 L494.2 579.7 L494.6 579.7 L494.9 579.7 L495.2 579.7 L495.5 579.7 L495.9 579.7 L496.2 579.7 L496.5 579.7 L496.9 579.8 L497.2 579.8 L497.5 579.8 L497.8 579.8 L498.2 579.8 L498.5 579.8 L498.8 579.8 L499.1 579.8 L499.4 579.8 L499.8 579.8 L500.1 579.8 L500.3 579.8" stroke="#ff8000" stroke-width="3.4" stroke-dasharray="4.40 10.71"/>
<path d="M500.3 579.8 L500.4 579.8 L500.7 579.9 L501.0 579.9 L501.4 579.9 L501.7 579.9 L502.0 579.9 L502.3 579.9 L502.7 579.9 L503.0 579.9 L503.3 579.9 L503.6 579.9 L503.9 579.9 L504.2 579.9 L504.5 580.0 L504.8 580.0 L505.1 580.0 L505.4 580.0 L505.7 580.0 L505.9 580.0 L506.2 580.0 L506.5 580.0 L506.7 580.0 L507.0 580.0 L507.2 580.0 L507.4 580.0 L507.6 580.0 L507.9 580.0 L508.1 580.0 L508.3 580.0 L508.5 580.0 L508.7 580.0 L508.9 580.0 L509.1 580.1 L509.3 580.1 L509.5 580.1 L509.7 580.1 L509.9 580.1 L510.1 580.1 L510.4 580.1 L510.6 580.1 L510.8 580.1 L511.1 580.1 L511.3 580.1 L511.6 580.1 L511.9 580.1 L512.1 580.1 L512.4 580.1 L512.7 580.1 L513.0 580.1 L513.2 580.1" stroke="#ff8000" stroke-width="3.4" stroke-dasharray="4.40 8.50"/>
<path d="M513.2 580.1 L513.2 580.1 L513.5 580.1 L513.8 580.2 L514.1 580.2 L514.4 580.2 L514.7 580.2 L515.0 580.2 L515.3 580.2 L515.6 580.2 L515.9 580.2 L516.3 580.2 L516.6 580.2 L516.9 580.2 L517.3 580.3 L517.6 580.3 L518.0 580.3 L518.3 580.3 L518.7 580.3 L519.1 580.3 L519.5 580.3 L519.9 580.3 L520.3 580.3 L520.7 580.3 L521.1 580.4 L521.5 580.4 L522.0 580.4 L522.4 580.4 L522.8 580.4 L523.3 580.4 L523.7 580.4 L524.2 580.5 L524.7 580.5 L525.1 580.5 L525.6 580.5 L526.0 580.5" stroke="#ff8000" stroke-width="3.4" stroke-dasharray="4.40 8.41"/>
<path d="M526.0 580.5 L526.1 580.5 L526.6 580.5 L527.0 580.5 L527.5 580.5 L528.0 580.6 L528.5 580.6 L529.0 580.6 L529.5 580.6 L530.0 580.6 L530.5 580.6 L531.0 580.6 L531.5 580.6 L532.0 580.6 L532.5 580.6 L533.0 580.6 L533.5 580.7 L534.0 580.7 L534.5 580.7 L535.1 580.7 L535.6 580.7 L536.1 580.7 L536.7 580.7 L537.2 580.7 L537.7 580.7 L538.3 580.7 L538.6 580.7" stroke="#ff8000" stroke-width="3.4" stroke-dasharray="4.40 8.20"/>
<path d="M538.6 580.7 L538.9 580.7 L539.4 580.7 L540.0 580.7 L540.6 580.7 L541.2 580.7 L541.8 580.7 L542.4 580.7 L543.0 580.7 L543.6 580.7 L544.3 580.7 L545.0 580.7 L545.6 580.7 L546.3 580.7 L547.0 580.7 L547.8 580.7 L548.5 580.7 L549.2 580.6 L550.0 580.6 L550.7 580.6 L551.4 580.6 L551.5 580.6" stroke="#ff8000" stroke-width="3.4" stroke-dasharray="4.40 8.50"/>
<path d="M551.5 580.6 L552.2 580.6 L552.9 580.6 L553.7 580.6 L554.4 580.6 L555.1 580.6 L555.9 580.6 L556.6 580.5 L557.3 580.5 L558.0 580.5 L558.7 580.5 L559.3 580.5 L560.0 580.5 L560.6 580.5 L561.3 580.5 L561.9 580.5 L562.5 580.5 L563.1 580.5 L563.7 580.5 L564.2 580.5 L564.4 580.5" stroke="#ff8000" stroke-width="3.4" stroke-dasharray="4.40 8.50"/>
<path d="M564.4 580.5 L564.8 580.5 L565.4 580.5 L565.9 580.5 L566.5 580.5 L567.1 580.5 L567.6 580.5 L568.2 580.5 L568.7 580.4 L569.3 580.4 L569.9 580.4 L570.4 580.4 L571.0 580.4 L571.6 580.4 L572.2 580.4 L572.8 580.4 L573.4 580.4 L574.0 580.4 L574.6 580.4 L575.3 580.4 L575.9 580.4 L576.6 580.4 L577.1 580.4" stroke="#ff8000" stroke-width="3.4" stroke-dasharray="4.40 8.30"/>
<path d="M577.1 580.4 L577.3 580.4 L578.0 580.3 L578.7 580.3 L579.4 580.3 L580.1 580.3 L580.8 580.3 L581.5 580.3 L582.2 580.3 L582.9 580.2 L583.6 580.2 L584.3 580.2 L585.0 580.2 L585.6 580.2 L586.3 580.2 L587.0 580.2 L587.6 580.2 L588.2 580.1 L588.8 580.1 L589.4 580.1 L589.9 580.1" stroke="#ff8000" stroke-width="3.4" stroke-dasharray="4.40 8.40"/>
<path d="M589.9 580.1 L590.0 580.1 L590.6 580.1 L591.1 580.1 L591.6 580.1 L592.1 580.1 L592.6 580.0 L593.1 580.0 L593.5 580.0 L594.0 580.0 L594.4 580.0 L594.8 580.0 L595.3 580.0 L595.7 580.0 L596.1 579.9 L596.5 579.9 L596.9 579.9 L597.4 579.9 L597.8 579.9 L598.2 579.9 L598.7 579.9 L599.1 579.9 L599.6 579.8 L600.0 579.8 L600.5 579.8 L601.0 579.8 L601.5 579.8 L602.0 579.8 L602.5 579.8 L602.8 579.7" stroke="#ff8000" stroke-width="3.4" stroke-dasharray="4.40 8.50"/>
<path d="M602.8 579.7 L603.1 579.7 L603.6 579.7 L604.1 579.7 L604.6 579.7 L605.2 579.7 L605.7 579.7 L606.3 579.6 L606.8 579.6 L607.4 579.6 L607.9 579.6 L608.5 579.6 L609.0 579.6 L609.6 579.5 L610.1 579.5 L610.7 579.5 L611.3 579.5 L611.8 579.5 L612.4 579.5 L612.9 579.4 L613.5 579.4 L614.0 579.4 L614.5 579.4 L615.1 579.4 L615.5 579.4" stroke="#ff8000" stroke-width="3.4" stroke-dasharray="4.40 8.31"/>
<path d="M615.5 579.4 L615.6 579.4 L616.2 579.3 L616.7 579.3 L617.2 579.3 L617.8 579.3 L618.3 579.3 L618.9 579.2 L619.4 579.2 L620.0 579.2 L620.5 579.2 L621.0 579.2 L621.6 579.2 L622.1 579.1 L622.7 579.1 L623.2 579.1 L623.8 579.1 L624.3 579.1 L624.8 579.1 L625.4 579.0 L625.9 579.0 L626.5 579.0 L627.0 579.0 L627.5 579.0 L628.1 579.0 L628.3 579.0" stroke="#ff8000" stroke-width="3.4" stroke-dasharray="4.40 8.41"/>
<path d="M628.3 579.0 L628.6 579.0 L629.2 578.9 L629.7 578.9 L630.2 578.9 L630.8 578.9 L631.3 578.9 L631.8 578.9 L632.4 578.8 L632.9 578.8 L633.4 578.8 L634.0 578.8 L634.5 578.8 L635.1 578.8 L635.6 578.8 L636.1 578.7 L636.7 578.7 L637.2 578.7 L637.8 578.7 L638.3 578.7 L638.9 578.6 L639.4 578.6 L640.0 578.6 L640.6 578.6 L641.0 578.6" stroke="#ff8000" stroke-width="3.4" stroke-dasharray="4.40 8.31"/>
<path d="M641.0 578.6 L641.2 578.6 L641.8 578.5 L642.4 578.5 L643.0 578.5 L643.6 578.4 L644.3 578.4 L644.9 578.4 L645.5 578.3 L646.2 578.3 L646.8 578.3 L647.4 578.2 L648.1 578.2 L648.7 578.2 L649.3 578.1 L649.9 578.1 L650.5 578.1 L651.0 578.1 L651.6 578.0 L652.1 578.0 L652.6 578.0 L653.1 577.9 L653.6 577.9 L654.0 577.9 L654.4 577.9 L654.8 577.9 L655.1 577.8 L655.5 577.8 L655.8 577.8 L656.1 577.8 L656.3 577.8 L656.6 577.8 L656.8 577.8 L657.1 577.7 L657.3 577.7 L657.5 577.7 L657.7 577.7 L657.9 577.7 L658.1 577.7 L658.3 577.7 L658.5 577.7 L658.7 577.7 L658.9 577.7 L659.1 577.6 L659.3 577.6 L659.5 577.6 L659.8 577.6 L660.0 577.6" stroke="#ff8000" stroke-width="3.4" stroke-dasharray="4.40 8.50"/>
</g>
<g font-family="Liberation Sans, sans-serif" font-size="17.5" fill="#000">
<text x="130.8" y="750.1" text-anchor="end">0</text>
<text x="130.8" y="662.7" text-anchor="end">2</text>
<text x="130.8" y="575.3" text-anchor="end">4</text>
<text x="130.8" y="487.9" text-anchor="end">6</text>
<text x="130.8" y="400.5" text-anchor="end">8</text>
<text x="130.8" y="313.1" text-anchor="end">10</text>
<text x="140.2" y="768.7" text-anchor="middle">0</text>
<text x="246.9" y="768.7" text-anchor="middle">5</text>
<text x="353.6" y="768.7" text-anchor="middle">10</text>
<text x="460.3" y="768.7" text-anchor="middle">15</text>
<text x="567.0" y="768.7" text-anchor="middle">20</text>
</g>
<g font-family="Liberation Serif, serif" font-style="italic" fill="#000">
<text x="398.6" y="779.9" font-size="26.8" stroke="#fff" stroke-width="0.2">b</text>
<text transform="translate(99.4,536.8) scale(1.15,1)" font-size="26.4" stroke="#fff" stroke-width="0.25">α</text>
<path d="M106.9 521.5 L110.0 517.0 L110.7 517.0 L113.8 521.5 L112.6 521.5 L110.35 518.9 L108.1 521.5 Z" fill="#000" stroke="none"/>
</g>
<rect x="484.3" y="355.4" width="143.5" height="132.8" fill="#fff" stroke="#000" stroke-width="1"/>
<g fill="none" stroke-linecap="round" stroke-width="3.5">
<path d="M496 372.5 H541.3" stroke="#000"/>
<path d="M496 397.7 H540" stroke="#800080" stroke-dasharray="12 16.5"/>
<path d="M496 422.8 H530" stroke="#ff0000" stroke-dasharray="14.1 9.6 2.2 9.6"/>
<path d="M495.9 447.9 H535" stroke="#008000" stroke-dasharray="10.6 9.45 2.2 9.45 2.2 9.5"/>
<path d="M495.9 473.1 H542" stroke="#ff8000" stroke-dasharray="4.4 8.6"/>
</g>
<text transform="translate(550.2,380.4) scale(1.38,1)" font-family="Liberation Serif, serif" font-style="italic" font-size="20" fill="#000" stroke="#fff" stroke-width="0.2">σ</text>
<text transform="translate(569.7,382.2) scale(1.07,1)" font-family="Liberation Serif, serif" font-size="20.8" fill="#000">=</text>
<text x="585.9" y="380.4" font-family="Liberation Serif, serif" font-size="20.8" fill="#000">0</text>
<text transform="translate(550.2,405.6) scale(1.38,1)" font-family="Liberation Serif, serif" font-style="italic" font-size="20" fill="#000" stroke="#fff" stroke-width="0.2">σ</text>
<text transform="translate(569.7,407.4) scale(1.07,1)" font-family="Liberation Serif, serif" font-size="20.8" fill="#000">=</text>
<text x="585.9" y="405.6" font-family="Liberation Serif, serif" font-size="20.8" fill="#000">0.02</text>
<text transform="translate(548.4,430.7) scale(1.38,1)" font-family="Liberation Serif, serif" font-style="italic" font-size="20" fill="#000" stroke="#fff" stroke-width="0.2">σ</text>
<text transform="translate(567.9,432.5) scale(1.07,1)" font-family="Liberation Serif, serif" font-size="20.8" fill="#000">=</text>
<text x="584.1" y="430.7" font-family="Liberation Serif, serif" font-size="20.8" fill="#000">0.04</text>
<text transform="translate(545.8,456.8) scale(1.38,1)" font-family="Liberation Serif, serif" font-style="italic" font-size="20" fill="#000" stroke="#fff" stroke-width="0.2">σ</text>
<text transform="translate(565.3,458.6) scale(1.07,1)" font-family="Liberation Serif, serif" font-size="20.8" fill="#000">=</text>
<text x="581.5" y="456.8" font-family="Liberation Serif, serif" font-size="20.8" fill="#000">0.06</text>
<text transform="translate(544.2,481.0) scale(1.38,1)" font-family="Liberation Serif, serif" font-style="italic" font-size="20" fill="#000" stroke="#fff" stroke-width="0.2">σ</text>
<text transform="translate(563.7,482.8) scale(1.07,1)" font-family="Liberation Serif, serif" font-size="20.8" fill="#000">=</text>
<text x="579.9" y="481.0" font-family="Liberation Serif, serif" font-size="20.8" fill="#000">0.08</text>
</svg>
</body></html>
